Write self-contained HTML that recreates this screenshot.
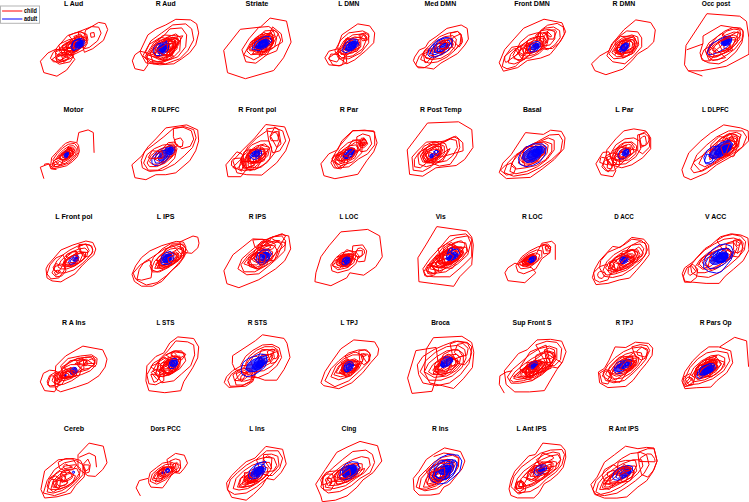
<!DOCTYPE html>
<html><head><meta charset="utf-8"><style>
html,body{margin:0;padding:0;background:#fff;}
svg{display:block;}
.r{fill:none;stroke:#f00;stroke-width:1.0;stroke-linejoin:miter;}
.b{fill:none;stroke:#00f;stroke-width:1.0;}
.bf{fill:#00f;fill-opacity:0.7;stroke:none;}
.t text{font-family:"Liberation Sans",sans-serif;font-weight:bold;font-size:7.9px;text-anchor:middle;fill:#000;}
.lg{font-family:"Liberation Sans",sans-serif;font-weight:bold;font-size:6.3px;fill:#000;}
</style></head><body>
<svg width="749" height="502" viewBox="0 0 749 502">
<rect x="0" y="0" width="749" height="502" fill="#fff"/>
<polygon points="40.4,61.2 48.0,52.9 55.7,49.3 62.9,49.9 70.1,52.3 74.8,59.4 66.5,70.2 56.9,76.2 43.8,72.6" class="r"/>
<polygon points="85.6,30.2 98.7,22.4 105.3,23.6 107.7,29.6 103.5,40.3 92.8,48.7 84.4,52.3 82.0,43.9" class="r"/>
<polygon points="78.4,31.9 91.6,26.6 98.7,27.2 101.1,33.1 97.5,40.9 89.2,47.5 84.4,48.7 79.6,41.5" class="r"/>
<polygon points="90.4,33.1 94.0,32.5 94.6,36.7 91.0,37.3" class="r"/>
<polygon points="58.7,45.7 67.7,35.5 79.6,31.4 85.6,34.3 87.4,43.3 83.2,49.9 73.6,54.6 62.9,54.6" class="r"/>
<polygon points="54.5,51.1 59.9,43.9 68.9,39.7 78.4,37.9 82.0,42.7 77.2,51.1 66.5,55.8 58.1,55.8" class="r"/>
<polygon points="62.6,46.3 70.2,41.0 71.5,40.3 71.8,40.3 77.7,43.5 77.3,43.9 62.8,50.6" class="r"/>
<polygon points="59.4,48.7 68.0,42.5 73.6,43.8 61.8,53.8 59.7,51.5" class="r"/>
<polygon points="66.1,55.6 68.4,44.8 68.5,44.3 72.3,43.7 74.3,43.8 76.9,45.9" class="r"/>
<polygon points="61.7,46.2 66.2,42.7 69.8,41.8 76.0,45.3 73.8,48.0 67.8,52.5" class="r"/>
<polygon points="50.4,58.2 53.3,52.3 60.5,48.1 70.1,47.5 74.8,52.3 71.3,58.2 61.7,61.8 53.3,61.8" class="r"/>
<polygon points="55.5,52.0 58.1,50.8 70.3,48.2 72.5,50.0 73.3,53.6 72.4,54.2 58.7,60.9 56.1,59.1" class="r"/>
<polygon points="56.1,58.2 58.8,53.4 61.5,52.5 67.2,52.6 61.5,61.1" class="r"/>
<polygon points="52.1,59.4 58.1,54.6 66.5,53.5 73.6,55.8 70.1,61.8 59.3,64.2" class="r"/>
<polygon points="56.2,58.1 57.0,57.3 61.0,55.0 69.2,58.0 58.7,62.9 56.8,61.1 56.4,59.9" class="r"/>
<polygon points="61.5,55.5 63.3,54.5 66.0,53.6 72.0,54.9 63.8,62.5" class="r"/>
<polygon points="62.9,49.9 68.9,41.5 76.0,36.7 82.0,35.5 85.0,40.3 80.8,47.5 72.5,52.3" class="r"/>
<polygon points="71.1,45.2 71.4,44.1 72.4,42.8 78.4,39.6 80.3,42.8 77.4,46.1 74.1,47.0 72.4,46.5" class="r"/>
<polygon points="65.8,46.3 68.7,42.1 74.4,41.2 75.5,42.5 70.6,48.4 66.5,48.4" class="r"/>
<polygon points="71.6,42.6 86.3,36.6 86.0,44.4 82.1,47.6 72.3,47.7 72.0,47.1" class="r"/>
<polygon points="73.2,42.5 75.6,37.5 82.0,36.8 78.2,45.0" class="r"/>
<polygon points="66.5,48.7 71.3,41.5 77.2,39.1 83.2,40.3 83.2,46.3 77.2,51.1 70.1,52.3" class="r"/>
<polygon points="71.8,45.7 72.4,44.8 74.3,43.1 77.1,41.9 79.0,46.9 72.2,48.5" class="r"/>
<polygon points="72.2,52.4 75.9,41.6 79.5,44.4 79.1,47.2 78.2,50.3" class="r"/>
<polygon points="72.7,48.5 80.2,38.9 81.5,40.2 80.8,45.5 80.4,46.4 75.2,49.0" class="r"/>
<polygon points="66.1,47.2 67.9,44.4 77.0,39.8 79.9,40.9 80.3,45.2 77.5,50.4 67.9,50.8" class="r"/>
<polygon points="68.9,35.5 74.8,33.1 80.8,31.9 86.8,34.3 88.0,40.3 84.4,43.9 74.8,42.7" class="r"/>
<polygon points="78.8,37.9 80.7,35.9 86.4,38.6 86.1,40.3 85.7,40.4 79.6,40.3 79.1,39.1" class="r"/>
<polygon points="73.8,36.5 80.6,33.9 83.9,39.9 78.5,40.8 75.7,40.0" class="r"/>
<polygon points="71.9,47.5 73.1,41.5 77.2,39.1 82.0,38.5 84.4,40.9 83.8,45.1 80.2,48.1 74.8,49.9 72.5,49.9" class="b"/>
<polygon points="70.8,46.3 73.1,42.0 73.7,41.3 79.0,39.1 82.0,40.5 73.8,51.1 71.6,48.6" class="b"/>
<polygon points="74.8,46.9 76.0,42.7 79.6,40.3 83.2,40.9 82.6,45.7 78.4,48.1" class="b"/>
<polygon points="74.8,46.9 76.0,42.7 79.6,40.3 83.2,40.9 82.6,45.7 78.4,48.1" class="bf"/>
<polygon points="78.2,44.6 78.7,42.5 81.1,41.3 82.0,44.0 79.4,45.9 78.4,45.4" class="b"/>
<polygon points="76.6,45.7 77.8,42.7 80.8,41.5 82.2,43.3 80.8,46.3" class="b"/>
<polygon points="76.6,45.7 77.8,42.7 80.8,41.5 82.2,43.3 80.8,46.3" class="bf"/>
<polygon points="77.6,43.9 81.1,40.9 81.4,41.1 83.0,42.2 78.7,45.3" class="b"/>
<polygon points="132.3,60.8 134.9,54.8 139.9,51.2 146.9,52.8 147.9,64.8 143.9,70.7 134.9,68.7" class="r"/>
<polygon points="139.9,51.8 147.9,34.9 155.8,29.3 165.8,24.9 175.8,19.3 190.7,19.9 196.7,23.9 198.7,32.9 195.7,44.8 189.7,52.8 181.7,58.8 173.8,63.8 159.8,64.8 145.9,62.8" class="r"/>
<polygon points="142.9,55.8 150.9,40.9 161.8,32.9 172.8,24.9 185.7,23.9 191.7,28.9 193.7,39.9 187.7,50.8 179.7,58.8 165.8,63.8 149.9,62.8" class="r"/>
<polygon points="144.9,56.8 153.8,42.8 163.8,35.9 169.8,28.9 181.7,27.9 186.7,34.9 185.7,46.8 177.8,56.8 163.8,61.8 150.9,61.8" class="r"/>
<polygon points="155.0,50.4 158.7,40.5 182.8,35.8 170.4,56.2 155.1,55.5" class="r"/>
<polygon points="145.5,52.1 149.2,44.4 159.1,38.2 161.8,37.6 169.1,39.2 165.9,60.1 147.7,55.0 146.4,54.0" class="r"/>
<polygon points="151.3,51.8 156.8,41.4 161.7,36.3 164.4,35.0 177.8,35.9 166.4,60.1 162.8,60.7" class="r"/>
<polygon points="162.2,45.7 162.9,42.6 165.8,38.5 169.1,37.0 178.4,38.8 177.9,42.2 171.2,51.4 170.1,51.1" class="r"/>
<polygon points="145.9,57.8 153.8,44.8 165.8,37.9 175.8,33.9 180.7,37.9 179.7,50.8 171.8,58.8 157.8,61.8" class="r"/>
<polygon points="150.2,52.6 151.4,51.8 173.8,56.1 162.4,62.5 153.3,63.9" class="r"/>
<polygon points="160.6,49.1 163.1,43.6 173.1,38.9 176.8,38.3 179.3,43.7 177.2,46.6 170.4,53.1" class="r"/>
<polygon points="154.5,48.0 177.4,46.7 176.8,49.2 174.1,51.4 167.7,56.0 155.5,50.6" class="r"/>
<polygon points="164.9,51.6 167.4,41.6 173.2,39.4 178.0,43.0 175.0,47.2" class="r"/>
<polygon points="148.9,54.8 155.8,44.8 165.8,39.9 173.8,38.9 176.8,45.8 171.8,55.8 159.8,59.8" class="r"/>
<polygon points="161.7,53.1 172.1,37.0 180.0,41.0 170.4,54.4 165.9,55.1 161.7,55.5" class="r"/>
<polygon points="165.3,41.0 168.9,39.3 171.7,40.0 173.3,42.5 172.8,48.0 169.7,50.5" class="r"/>
<polygon points="161.5,49.1 165.2,43.8 176.1,42.9 175.1,46.5 170.0,51.7 165.2,52.1 162.2,50.6" class="r"/>
<polygon points="149.9,53.8 157.8,44.8 167.8,39.9 175.8,41.9 173.8,52.8 163.8,57.8" class="r"/>
<polygon points="163.2,48.3 171.8,43.0 173.0,43.4 173.4,48.6 163.9,49.6" class="r"/>
<polygon points="154.2,55.8 158.9,46.4 162.2,45.3 163.6,45.3 158.7,56.2 157.6,57.1" class="r"/>
<polygon points="162.5,51.8 171.4,43.2 172.4,42.6 171.7,50.0 168.5,52.0" class="r"/>
<polygon points="158.9,52.0 159.2,43.1 161.0,42.1 164.1,40.4 172.7,41.7 175.6,43.1 171.3,50.6" class="r"/>
<polygon points="153.8,47.8 157.8,43.8 163.8,42.8 168.8,43.8 168.2,49.8 162.8,54.8 156.8,55.8 153.8,52.8" class="b"/>
<polygon points="163.7,46.4 164.0,43.5 165.9,41.2 166.9,40.9 165.9,47.1" class="b"/>
<polygon points="156.8,49.8 159.8,44.8 164.8,44.4 166.8,47.8 163.8,52.8 158.8,53.8" class="b"/>
<polygon points="156.8,49.8 159.8,44.8 164.8,44.4 166.8,47.8 163.8,52.8 158.8,53.8" class="bf"/>
<polygon points="159.9,47.9 160.1,47.8 163.4,46.1 164.9,48.5 164.1,50.1 161.7,50.7" class="b"/>
<polygon points="158.8,50.8 160.8,45.8 164.8,45.8 165.8,49.8 161.8,53.2" class="b"/>
<polygon points="158.8,50.8 160.8,45.8 164.8,45.8 165.8,49.8 161.8,53.2" class="bf"/>
<polygon points="160.3,51.1 164.2,48.1 164.4,50.0 163.8,51.0 162.3,51.8" class="b"/>
<polygon points="156.5,50.1 166.5,43.9 168.8,44.2 170.6,49.0 166.9,54.1 163.6,55.0" class="r"/>
<polygon points="223.7,50.4 240.3,29.3 260.4,27.1 270.1,18.1 286.5,21.1 291.1,42.1 283.5,57.8 273.7,70.5 245.4,78.7 227.5,72.7" class="r"/>
<polygon points="241.9,49.8 248.8,38.9 258.8,27.3 268.8,26.5 277.7,32.9 280.7,39.9 276.7,50.8 266.8,54.8 255.8,63.2 245.8,61.8" class="r"/>
<polygon points="252.4,42.3 255.3,39.0 264.2,36.7 268.7,37.8 260.5,52.4 252.7,47.1" class="r"/>
<polygon points="259.1,55.6 272.6,26.9 281.2,33.8 282.6,41.9 281.7,42.5" class="r"/>
<polygon points="260.9,35.2 264.6,30.9 272.9,30.4 274.3,33.3 275.2,36.7 274.5,37.4 261.6,41.5" class="r"/>
<polygon points="252.4,53.6 273.3,30.4 275.0,30.4 278.3,33.8 267.0,54.9" class="r"/>
<polygon points="243.9,54.8 250.8,41.9 260.8,34.9 270.7,32.9 276.7,37.9 274.7,46.8 264.8,53.8 253.8,59.8" class="r"/>
<polygon points="256.5,49.0 256.5,43.5 262.0,39.1 266.7,39.8 268.2,42.3 268.4,42.8" class="r"/>
<polygon points="254.5,38.8 259.5,35.1 263.9,32.4 273.9,37.9 271.7,42.0 255.1,50.1 254.6,48.6" class="r"/>
<polygon points="248.9,48.3 252.1,43.9 258.4,38.0 269.0,34.7 265.2,51.9 249.8,50.7" class="r"/>
<polygon points="254.0,42.5 265.4,33.6 270.6,33.4 272.3,34.5 272.6,34.8 273.4,41.1 273.5,43.2 257.6,50.5 254.1,44.4" class="r"/>
<polygon points="246.8,50.8 252.8,40.9 261.8,35.9 270.7,35.9 273.7,40.9 269.7,48.8 259.8,53.8 250.8,54.8" class="r"/>
<polygon points="258.3,39.2 267.5,36.8 273.1,41.5 271.8,46.2 265.9,51.5 262.3,52.4" class="r"/>
<polygon points="255.2,46.2 257.2,43.0 266.3,35.0 268.9,34.9 272.7,35.0 273.4,43.2 257.2,49.0" class="r"/>
<polygon points="252.2,50.3 253.5,47.4 259.1,41.3 267.2,40.1 270.6,41.8 268.2,46.1 265.5,49.6" class="r"/>
<polygon points="262.8,47.2 262.9,41.2 264.4,40.0 266.4,47.8 265.5,48.4 263.3,47.9" class="r"/>
<polygon points="249.8,48.8 255.8,39.9 264.8,36.9 272.7,38.9 272.7,44.8 264.8,50.8 256.8,52.8" class="r"/>
<polygon points="255.1,43.4 258.3,40.9 262.7,38.4 268.3,39.6 267.9,46.6 258.5,49.5 256.0,48.2" class="r"/>
<polygon points="261.6,39.6 268.6,37.9 272.3,39.8 271.0,44.5 265.0,47.3 262.7,48.4" class="r"/>
<polygon points="257.3,52.2 261.0,40.1 268.1,39.4 271.9,43.9 268.3,49.4 265.6,51.1" class="r"/>
<polygon points="257.3,48.1 258.2,45.1 261.0,43.6 266.4,44.9 266.0,45.8 265.1,47.3 262.0,49.1 260.9,49.2" class="r"/>
<polygon points="251.8,48.8 255.8,41.9 263.8,36.9 269.7,36.5 271.7,40.9 266.8,46.8 258.8,50.8" class="b"/>
<polygon points="258.9,42.9 263.6,39.7 266.4,40.3 266.1,44.6 264.3,45.8 260.4,47.1 259.2,47.2" class="b"/>
<polygon points="254.8,47.8 258.8,41.9 265.8,38.9 269.7,40.9 266.8,45.8 259.8,48.8" class="b"/>
<polygon points="254.8,47.8 258.8,41.9 265.8,38.9 269.7,40.9 266.8,45.8 259.8,48.8" class="bf"/>
<polygon points="259.4,45.2 264.1,39.7 267.7,44.6 267.1,45.4 266.0,45.9 259.8,45.9 259.6,45.6" class="b"/>
<polygon points="256.8,46.8 260.8,41.9 266.8,40.5 267.8,43.8 262.8,47.2" class="b"/>
<polygon points="256.8,46.8 260.8,41.9 266.8,40.5 267.8,43.8 262.8,47.2" class="bf"/>
<polygon points="258.2,47.2 258.9,43.5 266.1,42.0 266.7,42.6 262.6,47.1 260.9,47.2" class="b"/>
<polygon points="324.9,57.8 328.9,51.2 337.8,48.8 345.8,52.8 346.8,62.8 338.8,65.8 328.9,64.8" class="r"/>
<polygon points="328.7,57.9 337.9,51.6 344.8,55.2 342.6,64.6 341.3,65.4 339.8,65.8 332.7,64.8" class="r"/>
<polygon points="328.8,58.5 330.9,54.0 338.0,54.5 339.9,57.9 336.8,62.0 329.4,59.9" class="r"/>
<polygon points="341.8,34.9 357.8,23.9 369.7,25.9 374.7,32.9 373.7,42.8 365.7,50.8 354.8,59.8 346.8,63.8 338.8,57.8 337.8,46.8" class="r"/>
<polygon points="334.9,50.8 340.8,39.9 348.8,32.9 362.7,30.9 368.7,33.9 368.7,42.8 360.8,52.8 348.8,58.8 338.8,58.8" class="r"/>
<polygon points="336.8,52.8 343.8,40.9 352.8,34.9 362.7,33.9 366.7,38.9 362.7,48.8 352.8,55.8 341.8,57.8" class="r"/>
<polygon points="348.2,43.6 352.4,38.4 358.8,37.2 360.9,37.6 350.5,49.0 348.5,47.0" class="r"/>
<polygon points="340.5,50.2 348.3,40.4 350.2,39.3 359.6,45.6 360.4,46.5 357.0,51.2 341.0,54.5" class="r"/>
<polygon points="342.6,47.2 345.8,38.7 358.7,39.6 359.1,42.1 358.5,44.7 355.4,48.8 354.3,49.6 346.9,51.4" class="r"/>
<polygon points="343.4,45.4 344.1,43.8 345.7,42.3 357.1,43.8 357.0,44.9 344.3,49.4 343.6,47.4" class="r"/>
<polygon points="358.8,34.9 364.7,32.9 369.1,35.9 367.7,39.9 362.7,40.9" class="r"/>
<polygon points="360.6,35.8 362.5,33.8 364.4,33.7 366.6,37.3 366.0,38.0 364.6,38.7 363.2,38.5 361.4,37.8" class="r"/>
<polygon points="361.6,37.6 363.1,35.0 363.3,35.0 365.1,35.1 367.2,38.2 364.8,39.5 363.6,39.1 362.6,38.6" class="r"/>
<polygon points="338.8,50.8 346.8,39.9 354.8,36.9 360.8,37.9 360.8,46.8 352.8,52.8 343.8,54.8" class="r"/>
<polygon points="344.1,49.7 344.7,46.7 347.1,42.7 351.6,40.7 354.1,41.0 355.4,47.8 350.9,50.9" class="r"/>
<polygon points="344.9,43.6 347.5,37.5 356.1,48.5 355.3,50.0 345.7,49.8" class="r"/>
<polygon points="343.2,54.5 343.4,46.5 349.1,43.8 354.4,43.7 354.4,49.4 345.5,56.2" class="r"/>
<polygon points="348.9,42.3 359.4,42.1 360.0,43.9 358.1,48.0 356.3,49.2 352.0,50.8" class="r"/>
<polygon points="341.8,50.8 345.8,42.8 351.8,38.9 356.8,39.3 358.8,44.8 352.8,49.8 345.8,52.8" class="b"/>
<polygon points="345.9,45.6 355.8,40.1 356.6,43.6 352.8,48.6 351.6,49.8 350.9,49.9 346.8,49.7" class="b"/>
<polygon points="344.8,49.8 348.8,42.8 353.8,40.9 357.8,42.8 354.8,47.8 348.8,50.4" class="b"/>
<polygon points="344.8,49.8 348.8,42.8 353.8,40.9 357.8,42.8 354.8,47.8 348.8,50.4" class="bf"/>
<polygon points="351.6,44.6 353.2,42.4 355.5,41.5 356.5,42.7 356.4,44.6 355.1,45.9 352.1,46.4" class="b"/>
<polygon points="347.8,47.8 350.8,43.8 354.8,42.8 355.8,45.8 351.8,48.4" class="b"/>
<polygon points="347.8,47.8 350.8,43.8 354.8,42.8 355.8,45.8 351.8,48.4" class="bf"/>
<polygon points="351.1,45.0 351.6,43.8 356.4,43.1 355.3,46.5 354.4,47.1" class="b"/>
<polygon points="413.4,60.7 414.6,57.1 419.4,49.9 425.3,47.5 428.9,41.5 436.1,36.7 446.9,28.4 461.2,25.0 467.2,28.4 468.4,39.1 464.8,45.1 457.6,53.5 449.3,58.3 440.9,63.1 433.7,69.0 426.5,67.8 417.0,66.7" class="r"/>
<polygon points="415.8,64.3 419.4,55.9 425.3,51.1 432.5,49.9 433.7,57.1 430.1,64.3 424.1,67.8 418.2,67.8" class="r"/>
<polygon points="423.4,54.0 431.6,50.1 432.7,56.1 426.7,62.6 426.1,62.6 424.9,62.5" class="r"/>
<polygon points="420.6,59.5 424.1,51.1 431.3,43.9 439.7,36.7 448.1,33.2 457.6,31.4 461.2,34.4 461.2,42.7 455.2,49.9 446.9,57.1 437.3,61.9 428.9,63.1" class="r"/>
<polygon points="425.3,57.1 428.9,48.7 436.1,41.5 444.5,36.7 452.8,35.6 456.4,39.1 455.2,46.3 449.3,53.5 440.9,58.3 432.5,59.5" class="r"/>
<polygon points="423.4,53.5 425.9,49.0 444.2,48.8 444.1,52.0 442.5,53.4 432.3,59.4 426.2,58.4" class="r"/>
<polygon points="434.1,51.7 434.5,45.7 444.1,40.8 448.1,45.5 442.3,53.6" class="r"/>
<polygon points="428.9,54.7 432.5,47.5 438.5,42.1 445.7,39.1 451.7,39.1 452.8,43.9 449.3,49.9 442.1,54.7 434.9,56.5" class="r"/>
<polygon points="436.8,48.9 437.3,47.1 447.6,42.1 449.7,42.8 449.7,44.2 443.7,51.5 443.1,52.2 438.7,51.3 438.2,51.1" class="r"/>
<polygon points="450.5,33.2 457.6,31.4 461.2,35.6 460.0,43.9 455.2,49.9 451.7,46.3" class="r"/>
<polygon points="452.5,39.8 453.0,37.3 460.6,33.9 462.3,38.5 462.4,42.2 459.2,47.1" class="r"/>
<polygon points="439.4,47.6 443.4,42.6 445.8,42.9 446.5,43.8 446.6,44.2 446.2,46.9 442.3,49.9 441.5,49.9" class="r"/>
<polygon points="427.7,54.7 428.9,49.9 432.5,45.1 437.3,40.3 443.3,37.9 449.3,37.9 452.2,40.3 451.7,46.3 446.9,51.1 440.9,54.7 434.9,57.1 430.1,57.1" class="b"/>
<polygon points="433.2,45.3 433.7,44.3 446.9,42.8 444.8,48.7 441.1,51.3 434.8,52.0" class="b"/>
<polygon points="430.1,53.5 432.5,48.7 437.3,43.9 443.3,40.9 449.3,40.3 450.5,43.9 446.9,48.7 440.9,52.3 434.9,54.7" class="b"/>
<polygon points="435.3,49.6 437.1,41.6 444.5,38.1 446.2,37.6 452.1,38.9 452.3,42.3 438.7,51.6" class="b"/>
<polygon points="433.7,52.3 436.1,48.1 440.9,45.1 445.7,43.3 449.3,44.5 448.1,48.1 443.3,51.1 437.3,52.9" class="b"/>
<polygon points="437.4,51.5 437.5,48.7 438.2,48.3 440.8,51.7 440.0,52.2 438.1,52.5" class="b"/>
<polygon points="439.7,48.7 440.9,45.1 444.5,42.7 448.1,43.9 447.5,47.5 443.3,49.9" class="b"/>
<polygon points="439.7,48.7 440.9,45.1 444.5,42.7 448.1,43.9 447.5,47.5 443.3,49.9" class="bf"/>
<polygon points="439.2,48.0 440.2,44.8 441.5,44.3 444.7,43.8 446.0,44.0 446.6,44.4 446.3,44.9" class="b"/>
<polygon points="439.1,46.4 449.8,38.1 453.4,44.5 451.8,47.5 441.9,49.3 440.1,48.7" class="r"/>
<polygon points="434.9,49.9 437.3,43.9 442.1,40.9 446.9,40.3 449.3,43.9 446.9,48.7 442.1,52.3 437.3,52.9" class="r"/>
<polygon points="439.2,46.7 441.5,42.2 447.2,42.5 445.0,48.2 440.4,48.6" class="r"/>
<polygon points="499.2,62.8 504.6,49.7 514.1,38.9 523.7,28.2 544.0,19.2 562.0,22.8 565.6,31.7 562.0,38.9 556.0,47.3 550.0,54.5 540.5,58.1 527.3,60.5 517.7,67.6 503.4,71.2" class="r"/>
<polygon points="502.2,66.4 504.6,56.9 511.7,47.3 518.9,46.1 523.7,50.9 522.5,59.3 515.3,66.4 507.0,68.8" class="r"/>
<polygon points="504.7,60.2 504.8,56.2 513.5,49.1 517.1,48.4 518.6,49.2 519.2,53.1 505.8,62.5" class="r"/>
<polygon points="508.2,62.8 510.6,54.5 517.7,47.3 526.1,42.5 530.9,44.9 529.7,54.5 522.5,60.5 514.1,64.0" class="r"/>
<polygon points="513.9,58.6 514.3,56.9 527.7,42.7 528.0,43.0 531.1,47.8 520.2,60.0" class="r"/>
<polygon points="540.5,30.6 547.6,25.2 557.2,23.4 563.2,27.0 564.4,34.1 559.6,42.5 552.4,48.5 545.2,48.5 540.5,40.1" class="r"/>
<polygon points="543.2,37.4 547.9,32.1 547.0,42.9 544.2,40.8" class="r"/>
<polygon points="538.1,32.9 545.2,28.2 553.6,27.0 559.6,30.6 560.2,37.7 554.8,44.9 547.6,49.7 541.7,48.5" class="r"/>
<polygon points="546.7,37.2 547.0,32.1 548.5,30.1 555.2,29.9 556.0,30.7 556.5,31.4 553.6,39.1 548.9,39.0 547.4,37.9" class="r"/>
<polygon points="516.5,50.9 520.1,42.5 528.5,35.3 536.9,32.9 545.2,32.9 548.8,37.7 546.4,46.1 539.3,53.3 529.7,58.1 521.3,58.1" class="r"/>
<polygon points="534.8,46.4 538.1,34.0 541.6,33.3 546.5,40.7 541.6,46.4 537.4,47.4" class="r"/>
<polygon points="525.5,52.5 527.4,45.2 530.3,43.5 536.1,47.1 535.3,49.8 532.0,52.2" class="r"/>
<polygon points="518.9,52.1 522.5,44.9 529.7,38.9 536.9,36.5 544.0,36.5 546.4,41.3 542.8,48.5 534.5,54.5 526.1,56.3" class="r"/>
<polygon points="526.6,49.1 536.2,36.7 542.3,42.0 540.3,46.4 536.2,48.2 532.8,49.4 530.1,49.4" class="r"/>
<polygon points="524.7,47.9 527.8,40.8 538.8,36.6 543.9,39.7 541.8,49.1 533.1,52.5 529.6,53.6" class="r"/>
<polygon points="522.5,50.9 526.1,44.9 532.1,41.3 538.1,40.1 542.8,41.3 542.8,46.1 538.1,50.9 530.9,53.3 524.9,53.9" class="r"/>
<polygon points="526.0,44.8 528.4,43.2 532.0,42.5 538.4,45.9 533.2,51.4 528.1,52.6" class="r"/>
<polygon points="525.6,49.8 527.7,45.6 533.2,43.2 536.9,42.7 538.8,44.2 526.4,50.2" class="r"/>
<polygon points="512.9,55.7 516.5,48.5 523.7,44.9 529.7,46.1 530.9,53.3 524.9,59.3 517.7,60.5" class="r"/>
<polygon points="519.0,54.0 519.1,52.9 521.1,48.7 523.5,48.0 525.9,48.7 526.6,49.0 523.1,56.2" class="r"/>
<polygon points="535.7,35.3 541.7,30.6 548.8,29.4 554.8,31.7 554.8,38.9 550.0,44.9 542.8,46.1 538.1,41.3" class="r"/>
<polygon points="543.1,33.0 547.7,31.7 551.0,35.0 551.4,35.6 551.0,37.0" class="r"/>
<polygon points="528.5,49.7 529.7,45.5 533.3,42.5 536.9,41.3 539.9,42.5 539.9,47.3 536.9,50.3 532.7,52.1 529.7,51.5" class="b"/>
<polygon points="530.9,48.5 532.7,44.9 536.3,43.1 539.0,44.3 538.3,47.9 535.1,49.9 532.1,49.9" class="b"/>
<polygon points="530.9,48.5 532.7,44.9 536.3,43.1 539.0,44.3 538.3,47.9 535.1,49.9 532.1,49.9" class="bf"/>
<polygon points="533.3,47.3 535.1,44.3 538.1,43.7 538.3,46.3 535.7,48.5" class="b"/>
<polygon points="533.3,47.3 535.1,44.3 538.1,43.7 538.3,46.3 535.7,48.5" class="bf"/>
<polygon points="591.5,63.8 599.9,55.8 608.9,50.8 613.8,41.9 623.8,29.9 635.8,19.9 650.7,22.5 655.3,29.9 653.7,41.9 647.7,47.8 637.7,53.8 631.8,60.8 622.8,69.1 605.9,74.7 594.9,70.7" class="r"/>
<polygon points="606.9,55.8 611.8,43.8 618.8,36.9 626.8,30.9 637.7,31.9 641.7,37.9 641.7,46.8 633.8,55.8 624.8,63.8 612.8,61.8" class="r"/>
<polygon points="615.2,45.8 615.2,42.0 620.6,36.5 633.1,36.0 635.4,38.7 632.4,53.7 622.7,57.9" class="r"/>
<polygon points="615.9,44.5 618.7,42.3 621.6,40.8 627.3,42.5 626.4,47.8" class="r"/>
<polygon points="608.9,53.8 615.8,42.8 622.8,37.9 631.8,34.9 637.7,36.9 638.7,44.8 633.8,52.8 623.8,57.8 613.8,58.8" class="r"/>
<polygon points="620.2,54.1 622.2,44.1 631.9,39.7 632.8,39.9 635.5,43.2 633.7,46.8" class="r"/>
<polygon points="615.1,54.5 619.6,42.5 623.5,40.3 625.2,40.1 627.7,40.6" class="r"/>
<polygon points="611.8,52.8 617.8,42.8 624.8,38.5 632.8,37.3 636.7,41.9 634.8,49.8 626.8,55.8 616.8,56.8" class="r"/>
<polygon points="620.9,47.6 622.9,40.7 633.5,36.5 637.3,42.8 637.2,46.1 630.2,52.5 623.4,52.8" class="r"/>
<polygon points="616.6,50.7 617.1,46.7 619.8,44.2 625.1,42.2 623.3,55.4 620.0,54.6" class="r"/>
<polygon points="613.8,51.8 619.8,42.8 626.8,38.9 633.8,39.9 634.8,46.8 628.8,52.8 618.8,54.8" class="r"/>
<polygon points="617.5,48.4 619.9,46.7 623.8,46.4 624.7,50.2 617.6,52.3" class="r"/>
<polygon points="622.9,45.9 628.3,40.5 631.1,40.9 635.6,46.7 635.4,47.5 630.5,51.8 629.2,51.6 623.0,47.6" class="r"/>
<polygon points="615.8,49.7 617.1,47.3 627.5,48.1 623.3,54.2 622.3,55.1 621.9,55.1 616.4,51.6" class="r"/>
<polygon points="622.1,48.1 623.0,44.5 625.0,43.1 627.5,41.9 629.2,41.6 629.5,42.5 629.8,46.6 623.4,49.4" class="r"/>
<polygon points="618.8,50.8 621.4,45.8 625.8,42.8 628.8,43.8 627.8,48.8 622.8,52.4" class="b"/>
<polygon points="621.1,48.7 621.5,46.9 622.5,45.9 624.2,45.4 626.6,48.9 624.7,50.5" class="b"/>
<polygon points="619.8,49.8 622.8,44.8 626.8,43.8 627.8,47.2 623.8,50.8" class="b"/>
<polygon points="619.8,49.8 622.8,44.8 626.8,43.8 627.8,47.2 623.8,50.8" class="bf"/>
<polygon points="620.8,48.0 621.5,45.7 622.2,45.1 625.8,43.5 627.9,45.2 623.6,50.3 622.9,50.2 620.9,48.5" class="b"/>
<polygon points="614.8,49.8 620.8,41.9 627.8,39.9 632.8,42.8 631.8,48.8 624.8,52.8 617.8,53.8" class="r"/>
<polygon points="706.9,13.7 739.8,16.2 746.5,21.4 748.9,37.9 748.9,54.3 726.3,66.3 700.9,70.8 688.2,70.8 684.5,64.8 686.0,45.4" class="r"/>
<polygon points="703.0,36.0 720.9,25.5 736.9,28.0 742.8,30.0 743.3,36.0 741.8,42.9 735.9,51.9 726.9,59.9 718.9,63.9 708.9,62.9 702.0,59.9 700.0,52.9 703.0,42.9" class="r"/>
<polygon points="706.3,54.0 710.0,44.1 725.5,57.6 712.7,60.6" class="r"/>
<polygon points="705.0,49.9 708.9,42.9 716.9,36.9 724.9,31.0 732.9,27.5 740.8,28.0 743.3,32.0 741.8,39.9 734.9,48.9 726.9,54.9 717.9,59.9 708.9,59.9" class="r"/>
<polygon points="708.7,51.4 710.4,44.8 717.9,36.0 722.7,32.8 732.7,49.8 714.1,57.3 710.0,56.1" class="r"/>
<polygon points="706.9,52.9 710.9,45.9 717.9,39.9 725.9,35.0 733.9,32.0 739.8,33.0 739.8,38.9 733.9,45.9 725.9,51.9 716.9,56.9 709.9,56.9" class="r"/>
<polygon points="723.9,41.9 726.8,40.0 730.4,47.7 724.6,48.9 724.0,48.4" class="r"/>
<polygon points="714.1,51.7 727.1,41.0 730.7,44.5 725.9,50.6 716.5,53.0" class="r"/>
<polygon points="701.0,56.9 704.0,49.9 708.9,46.9 713.9,48.9 713.9,55.9 709.9,60.9 704.0,60.9" class="r"/>
<polygon points="721.9,35.0 726.9,31.0 733.9,29.0 739.8,30.0 740.8,35.0 736.9,39.9 728.9,39.9" class="r"/>
<polyline points="688.2,70.8 702.4,76.0" class="r"/>
<polyline points="686.7,49.8 703.2,43.9" class="r"/>
<polygon points="707.4,52.9 708.9,47.9 712.9,42.9 718.9,39.9 724.9,36.9 729.9,36.0 731.9,37.9 730.9,42.9 725.9,47.9 718.9,51.9 712.9,54.4 708.9,54.9" class="b"/>
<polygon points="720.9,43.9 721.9,39.9 724.9,36.9 728.9,36.0 731.4,37.9 730.9,41.9 727.9,44.9 723.9,45.9" class="b"/>
<polygon points="720.9,43.9 721.9,39.9 724.9,36.9 728.9,36.0 731.4,37.9 730.9,41.9 727.9,44.9 723.9,45.9" class="bf"/>
<polygon points="721.9,43.4 723.4,39.9 725.9,37.9 728.9,37.9 729.9,40.9 727.9,43.9 724.4,44.9" class="b"/>
<polygon points="721.9,43.4 723.4,39.9 725.9,37.9 728.9,37.9 729.9,40.9 727.9,43.9 724.4,44.9" class="bf"/>
<polygon points="722.9,42.4 724.4,39.4 726.9,38.4 728.9,39.9 727.9,42.9 724.9,43.9" class="b"/>
<polygon points="722.9,42.4 724.4,39.4 726.9,38.4 728.9,39.9 727.9,42.9 724.9,43.9" class="bf"/>
<polygon points="717.9,42.0 738.2,31.5 738.4,32.8 731.2,49.0 722.4,50.6 722.1,50.2" class="r"/>
<polygon points="708.9,51.9 712.9,45.9 719.9,40.9 726.9,36.9 733.9,35.0 737.9,36.9 736.9,42.9 730.9,48.9 722.9,53.9 714.9,55.9" class="r"/>
<polygon points="711.9,49.9 715.9,44.9 721.9,40.9 728.9,37.9 734.9,37.4 735.9,40.9 731.9,45.9 724.9,50.9 717.9,52.9" class="r"/>
<polygon points="51.6,157.8 56.5,152.4 61.9,146.6 65.5,143.4 70.0,141.6 76.3,142.5 78.5,145.2 79.4,151.5 77.2,156.9 72.7,161.4 66.4,165.8 59.2,167.6 53.9,168.5 50.7,165.8" class="r"/>
<polygon points="53.0,159.6 57.4,153.3 62.8,147.9 68.2,144.3 74.5,143.4 77.6,147.0 78.1,152.4 74.5,157.8 68.2,163.2 61.0,165.8 54.8,166.7" class="r"/>
<polygon points="54.8,160.5 59.2,154.2 63.7,149.7 69.1,146.1 73.6,145.7 76.3,148.8 75.8,154.2 71.8,158.7 65.5,163.2 58.3,164.9" class="r"/>
<polygon points="67.1,147.8 69.9,147.2 70.6,147.2 71.4,148.3 72.8,151.4 72.3,151.9" class="r"/>
<polygon points="59.3,158.2 59.6,157.0 60.3,155.7 64.6,151.9 71.1,153.0 66.8,159.9 59.9,158.9" class="r"/>
<polygon points="56.5,159.6 60.6,154.2 65.1,150.6 70.0,147.9 73.6,147.9 74.9,151.5 72.7,156.0 68.2,159.6 61.9,162.7" class="r"/>
<polygon points="60.1,159.6 60.5,156.6 68.2,147.7 73.9,149.5 74.2,150.1 71.5,155.6 62.8,160.0" class="r"/>
<polygon points="63.5,154.0 68.2,151.2 68.5,151.2 68.9,151.4 70.2,154.9 68.4,157.0 65.5,158.4" class="r"/>
<polygon points="62.6,156.9 63.0,156.5 68.1,152.1 70.8,154.6 69.2,156.4 65.9,158.1 65.3,158.2 63.0,157.2" class="r"/>
<polygon points="63.4,153.4 70.9,147.8 71.2,147.8 73.4,153.4 73.1,154.6 72.2,155.7 69.2,157.5" class="r"/>
<polygon points="52.1,164.1 54.8,159.6 59.2,157.8 62.8,159.6 61.9,164.1 57.4,166.7 53.0,166.7" class="r"/>
<polygon points="52.5,164.4 52.8,164.1 56.0,161.5 58.5,162.4 58.0,163.8 53.0,165.2" class="r"/>
<polygon points="61.9,156.9 63.7,152.4 67.3,149.7 70.9,149.3 71.8,152.4 70.0,156.0 65.5,158.7" class="r"/>
<polygon points="65.9,154.0 66.0,152.9 68.5,151.3 69.8,151.0 69.8,154.0 67.8,155.1 66.0,154.9" class="r"/>
<polygon points="63.5,154.9 65.0,151.9 70.2,152.4 70.1,153.9 69.7,155.5 68.8,156.7 66.5,157.5" class="r"/>
<polyline points="44.0,164.5 46.7,163.6 50.7,164.5" class="r"/>
<polyline points="50.7,165.8 51.2,168.5 56.5,169.4" class="r"/>
<polyline points="43.9,178.7 40.3,167.2 48.9,163.8 50.9,168.8 55.9,169.2" class="r"/>
<polyline points="76.8,142.9 78.8,132.5 88.1,129.9 93.3,132.5 94.1,152.8" class="r"/>
<polygon points="64.2,153.3 66.0,151.5 68.2,152.0 68.6,154.6 66.8,157.8 65.1,157.8 64.2,156.0" class="b"/>
<polygon points="65.3,155.7 65.7,153.2 66.4,152.9 68.0,153.5 68.1,155.1 66.6,156.9 66.0,156.8" class="b"/>
<polygon points="65.1,155.1 66.0,152.8 67.7,152.8 67.7,156.0 66.0,156.9" class="b"/>
<polygon points="65.1,155.1 66.0,152.8 67.7,152.8 67.7,156.0 66.0,156.9" class="bf"/>
<polygon points="65.5,154.8 65.5,154.2 65.6,154.0 65.9,153.7 66.1,153.6 66.8,153.6 67.0,154.8 67.0,155.1" class="b"/>
<polygon points="58.3,158.7 61.9,154.2 66.0,152.0 70.0,150.2 72.7,151.1 72.7,154.6 69.1,157.8 63.7,160.5" class="r"/>
<polygon points="131.9,164.8 141.9,155.8 147.9,146.9 155.8,138.9 165.8,127.9 186.7,124.9 197.7,129.9 198.7,140.9 195.7,150.8 189.7,160.8 175.8,172.8 165.8,174.7 155.8,174.7 145.9,179.7 134.9,177.7" class="r"/>
<polygon points="141.2,160.6 144.8,151.1 153.1,145.1 163.9,136.7 173.4,128.4 184.2,126.6 193.7,129.6 196.1,137.9 192.5,147.5 184.2,155.8 174.6,164.2 162.7,170.2 149.5,171.4 142.4,167.8" class="r"/>
<polygon points="173.4,128.4 183.0,127.2 191.3,130.8 193.7,139.1 190.2,146.3 181.8,148.7 175.8,143.9 173.4,136.7" class="r"/>
<polygon points="174.6,139.7 180.6,137.9 183.0,141.5 182.4,146.3 178.2,146.9 175.2,143.9" class="r"/>
<polygon points="143.6,163.0 147.1,154.6 154.3,148.7 162.7,145.1 173.4,143.9 177.0,148.7 174.6,158.2 167.5,165.4 157.9,170.2 148.3,170.2" class="r"/>
<polygon points="153.6,158.9 168.2,142.7 173.9,142.1 178.0,145.3 154.3,159.5" class="r"/>
<polygon points="158.9,151.3 165.1,149.8 166.6,151.3 164.4,156.2 162.0,158.6 161.7,158.3" class="r"/>
<polygon points="161.9,162.4 170.4,146.4 171.3,154.0 171.4,155.4 164.4,161.4" class="r"/>
<polygon points="149.5,161.8 153.1,155.8 159.1,152.3 166.3,149.9 172.2,149.9 172.2,155.8 166.3,160.6 157.9,164.2 151.9,164.2" class="r"/>
<polygon points="154.8,159.1 155.7,156.1 157.9,152.6 166.7,149.9 171.5,152.4 163.2,163.7" class="r"/>
<polygon points="159.7,157.6 163.4,152.1 169.7,150.8 170.3,151.3 171.4,153.4 169.3,156.3" class="r"/>
<polygon points="165.1,148.7 168.6,145.7 173.4,145.1 175.8,148.7 174.6,154.6 169.8,157.0 166.3,154.6" class="r"/>
<polygon points="151.9,159.4 154.3,154.6 159.1,149.9 165.1,147.5 169.8,148.7 169.8,155.8 165.1,161.8 159.1,165.4 154.3,165.4 151.9,163.0" class="b"/>
<polygon points="154.3,159.4 156.7,154.6 161.5,151.1 167.5,149.9 168.6,154.6 165.1,159.4 159.1,163.0 155.5,163.0" class="b"/>
<polygon points="157.9,158.2 160.3,153.5 163.9,151.7 167.5,152.9 166.9,157.0 163.3,160.0 159.1,160.6" class="b"/>
<polygon points="157.9,158.2 160.3,153.5 163.9,151.7 167.5,152.9 166.9,157.0 163.3,160.0 159.1,160.6" class="bf"/>
<polygon points="165.1,149.9 167.5,146.3 171.0,145.7 174.6,147.5 174.6,152.3 171.0,154.6 167.5,154.1" class="b"/>
<polygon points="165.1,149.9 167.5,146.3 171.0,145.7 174.6,147.5 174.6,152.3 171.0,154.6 167.5,154.1" class="bf"/>
<polygon points="167.5,150.5 169.2,147.7 172.2,147.2 173.4,149.9 171.6,152.5 168.9,152.5" class="b"/>
<polygon points="167.5,150.5 169.2,147.7 172.2,147.2 173.4,149.9 171.6,152.5 168.9,152.5" class="bf"/>
<polygon points="148.4,157.3 152.2,150.7 161.9,151.9 163.2,155.7 162.2,158.4 148.9,158.2" class="r"/>
<polygon points="147.1,163.0 150.7,155.8 156.7,151.1 163.9,147.5 172.2,145.7 175.2,149.9 172.2,157.0 165.1,163.0 156.7,166.6 149.5,166.6" class="r"/>
<polygon points="225.9,164.8 236.9,151.8 241.9,153.8 246.8,168.8 240.9,176.7 227.9,176.7" class="r"/>
<polygon points="232.8,167.3 240.8,159.4 241.1,159.3 241.8,161.5 241.5,163.3 240.3,165.5 236.2,169.2" class="r"/>
<polygon points="231.4,165.5 231.7,160.7 233.9,158.5 241.7,158.0 244.0,160.8 244.2,161.2 241.6,171.2" class="r"/>
<polygon points="232.9,160.8 241.9,150.8 254.8,137.9 265.8,124.5 284.7,126.9 289.7,139.9 285.7,150.8 276.7,162.8 261.8,175.1 246.8,174.7 236.9,172.8" class="r"/>
<polygon points="240.9,158.8 247.8,146.9 256.8,137.9 266.8,130.9 276.7,132.9 279.7,140.9 274.7,152.8 266.8,162.8 254.8,169.8 243.9,168.8" class="r"/>
<polygon points="241.9,164.8 243.9,152.8 251.8,144.9 260.8,140.9 268.8,140.9 271.7,147.9 269.7,158.8 261.8,166.8 249.8,170.8" class="r"/>
<polygon points="255.2,160.5 255.4,148.6 260.6,145.0 268.9,147.1 269.1,148.4 268.0,150.0 257.0,160.7" class="r"/>
<polygon points="258.3,160.6 260.5,146.5 264.6,149.1 265.8,155.6 263.5,157.6 258.6,161.3" class="r"/>
<polygon points="248.1,166.2 248.8,154.2 250.6,151.1 263.3,151.2 265.5,153.9 257.2,167.9 252.6,167.4" class="r"/>
<polygon points="246.8,161.4 249.6,152.1 254.8,149.0 260.1,157.3 259.1,160.2 258.4,161.1 257.5,161.8" class="r"/>
<polygon points="244.8,160.8 249.8,150.8 256.8,145.9 264.8,143.9 269.7,147.9 267.8,155.8 260.8,161.8 250.8,163.8" class="r"/>
<polygon points="249.6,155.8 251.1,152.3 254.1,149.3 268.2,148.9 264.2,160.6 257.2,163.3 249.9,161.1" class="r"/>
<polygon points="246.5,155.3 251.5,149.9 258.7,147.7 263.8,150.0 264.4,156.4 257.2,162.0 250.7,162.6" class="r"/>
<polygon points="253.6,154.2 254.5,152.8 260.9,150.8 262.2,154.5 261.4,156.7 259.9,157.2" class="r"/>
<polygon points="256.0,153.2 256.3,152.8 259.9,149.8 262.7,148.8 265.0,151.3 260.6,158.1 259.2,158.3 258.5,158.4" class="r"/>
<polygon points="266.8,128.9 274.7,127.9 282.7,130.9 285.7,140.9 279.7,150.8 272.7,152.8 268.8,140.9" class="r"/>
<polygon points="270.6,136.4 274.3,131.8 275.8,131.5 278.8,131.9 279.0,132.2 281.0,143.9 276.8,147.5" class="r"/>
<polygon points="270.0,136.4 274.7,127.1 278.1,129.2 279.1,130.8 278.0,140.8 271.4,140.7 270.9,139.8" class="r"/>
<polygon points="238.9,168.8 241.9,156.8 248.8,150.8 256.8,148.8 261.8,152.8 259.8,162.8 252.8,168.8 244.8,170.8" class="r"/>
<polygon points="240.7,159.5 244.2,152.1 249.7,149.2 258.7,151.1 259.5,158.0 258.5,161.4 241.4,161.7" class="r"/>
<polygon points="246.1,161.6 250.5,157.7 251.3,168.0 248.7,167.9 246.3,167.4" class="r"/>
<polygon points="243.0,164.9 243.1,161.9 247.6,153.4 252.4,152.7 254.1,165.7 245.8,168.6" class="r"/>
<polygon points="244.2,166.9 247.3,154.3 250.0,153.1 252.0,152.4 257.3,158.2 254.5,164.9 246.8,167.7" class="r"/>
<polygon points="250.8,156.8 252.8,152.8 256.8,149.8 261.2,150.4 261.8,154.4 257.8,158.4 253.2,159.8" class="b"/>
<polygon points="250.0,155.5 251.8,153.2 254.0,151.6 255.8,151.7 250.7,158.5 250.4,158.1" class="b"/>
<polygon points="252.4,156.4 254.8,151.8 258.8,150.8 260.4,153.8 256.8,157.2" class="b"/>
<polygon points="252.4,156.4 254.8,151.8 258.8,150.8 260.4,153.8 256.8,157.2" class="bf"/>
<polygon points="254.0,154.8 258.5,151.4 259.0,155.3 256.9,156.4 255.4,156.0 254.6,155.4" class="b"/>
<polygon points="320.9,163.8 328.9,153.8 337.8,149.8 341.8,140.9 352.8,130.5 373.7,130.9 377.1,142.9 373.7,151.8 366.7,160.8 357.8,174.3 334.9,178.7 323.9,175.7" class="r"/>
<polygon points="331.9,158.8 338.8,146.9 344.8,139.9 352.8,130.9 364.7,130.1 374.7,131.9 374.7,144.9 367.7,153.8 358.8,158.8 348.8,166.8 338.8,167.8" class="r"/>
<polygon points="348.6,146.9 355.5,142.2 358.5,142.6 357.0,150.9 356.8,151.3 350.8,152.7" class="r"/>
<polygon points="335.5,163.3 336.1,156.6 349.9,148.7 352.0,150.4 339.0,164.8" class="r"/>
<polygon points="342.4,155.7 352.7,140.2 360.3,139.8 360.9,149.7 344.7,157.3" class="r"/>
<polygon points="335.9,159.8 341.8,150.8 348.8,145.9 355.8,144.9 358.8,149.8 354.8,157.8 345.8,162.8" class="r"/>
<polygon points="343.8,153.4 345.7,150.5 348.8,148.4 355.2,150.7 353.7,156.7 345.0,158.7" class="r"/>
<polygon points="338.1,155.7 339.9,153.6 343.2,150.5 346.2,149.1 352.3,154.4 351.9,156.1 348.4,160.0 338.2,160.6" class="r"/>
<polygon points="356.8,136.9 362.7,133.9 369.7,135.9 371.7,143.9 366.7,150.8 360.8,151.8 356.8,144.9" class="r"/>
<polygon points="360.0,143.5 361.0,139.2 361.4,138.2 364.2,138.2 363.8,145.7 361.5,145.0" class="r"/>
<polygon points="360.4,145.2 363.7,137.8 366.4,141.6 366.9,142.3 364.0,145.9 360.6,145.9" class="r"/>
<polygon points="358.8,140.9 364.7,138.9 367.7,143.9 363.7,147.9 359.8,146.9" class="r"/>
<polygon points="359.2,144.1 359.3,143.2 365.6,142.4 365.5,143.1 360.6,145.7" class="r"/>
<polygon points="360.6,142.5 361.9,140.3 365.2,139.3 365.5,139.5 366.9,143.3 364.2,145.3" class="r"/>
<polygon points="330.9,162.8 333.9,155.8 340.8,151.8 346.8,152.8 347.8,162.8 340.8,168.8 333.9,167.8" class="r"/>
<polygon points="335.5,157.0 336.2,156.0 342.7,153.8 343.4,153.8 345.5,155.4 346.1,156.1 344.4,162.2 340.8,163.8" class="r"/>
<polygon points="332.3,160.2 332.4,158.9 334.5,156.5 338.5,153.7 344.0,163.4 343.1,164.8 337.6,168.2 335.5,167.2" class="r"/>
<polygon points="342.8,156.8 345.2,151.8 349.8,147.9 353.8,148.8 354.8,153.8 349.8,157.8 344.8,158.8" class="b"/>
<polygon points="345.5,155.2 348.5,150.1 351.1,149.8 353.0,150.9 352.9,152.2 352.0,156.1 347.6,157.5" class="b"/>
<polygon points="347.8,152.8 350.4,147.9 354.4,148.5 354.8,152.8 350.8,155.2" class="b"/>
<polygon points="347.8,152.8 350.4,147.9 354.4,148.5 354.8,152.8 350.8,155.2" class="bf"/>
<polygon points="350.5,152.7 351.3,149.7 352.4,149.7 353.2,149.9 353.3,150.3 353.3,153.0 351.8,153.6" class="b"/>
<polygon points="343.8,156.4 346.4,152.8 349.8,153.2 347.8,157.8" class="b"/>
<polygon points="343.8,156.4 346.4,152.8 349.8,153.2 347.8,157.8" class="bf"/>
<polygon points="343.8,156.1 344.1,155.2 345.1,154.7 346.5,155.1 346.5,157.2 344.9,157.8 344.1,157.5" class="b"/>
<polygon points="333.9,160.8 339.8,149.8 347.8,142.9 356.8,139.9 362.7,142.9 361.7,152.8 352.8,161.8 340.8,165.8" class="r"/>
<polygon points="338.7,157.2 340.3,154.6 346.5,150.0 352.1,147.8 354.6,148.7 340.2,160.8" class="r"/>
<polygon points="341.1,156.1 345.8,149.7 351.2,148.1 358.0,151.0 350.8,159.1 343.9,159.8 342.4,157.8" class="r"/>
<polygon points="343.6,153.7 346.9,149.3 347.8,148.6 351.2,148.2 355.8,150.4 351.5,158.0 350.4,157.8 343.8,155.3" class="r"/>
<polygon points="407.2,149.9 427.5,123.0 458.6,121.8 471.8,129.6 473.0,147.5 464.6,159.5 456.2,165.5 435.9,167.8 422.7,176.2 409.6,174.4" class="r"/>
<polygon points="412.0,157.1 417.3,151.1 426.3,142.1 435.9,141.5 441.9,146.3 439.5,155.9 431.1,166.7 422.7,171.4 413.2,170.2" class="r"/>
<polygon points="421.6,154.8 429.4,144.8 432.5,144.3 436.8,145.2 438.4,147.8 437.4,153.3 424.8,162.0" class="r"/>
<polygon points="422.7,149.9 433.5,143.3 444.3,140.9 453.8,136.7 458.6,139.1 459.8,147.5 456.2,155.9 450.2,164.3 439.5,166.1 428.7,161.9" class="r"/>
<polygon points="439.8,157.4 440.5,143.1 455.8,136.2 456.6,136.8 462.8,142.8 463.1,150.8 442.8,156.5" class="r"/>
<polygon points="425.1,151.1 434.7,145.7 443.1,142.7 450.2,139.1 456.2,140.3 457.4,147.5 452.6,155.9 446.7,160.7 435.9,163.1 427.5,159.5" class="r"/>
<polygon points="426.7,162.9 450.1,148.6 442.5,161.1" class="r"/>
<polygon points="417.9,155.9 423.9,146.3 431.1,142.7 439.5,141.5 445.5,143.9 447.8,151.1 443.1,158.3 434.7,164.3 426.3,166.7 419.1,164.3" class="r"/>
<polygon points="422.6,156.6 434.7,147.0 439.2,151.8 436.9,157.9 432.0,160.4 426.9,161.8 423.5,160.0" class="r"/>
<polygon points="420.3,155.9 425.1,148.7 432.3,145.1 439.5,143.9 444.3,146.3 444.3,153.5 438.3,159.5 429.9,163.1 422.7,161.9" class="r"/>
<polygon points="422.7,155.9 427.5,149.9 433.5,146.9 439.5,146.3 442.5,149.9 440.7,155.9 434.7,160.1 427.5,161.3" class="r"/>
<polygon points="428.6,156.2 429.2,152.4 439.4,155.8 437.3,157.2 433.6,159.0" class="r"/>
<polygon points="431.3,155.9 431.3,155.0 433.4,152.9 436.8,153.7 436.6,154.6 435.3,156.1 433.7,156.8 431.7,156.7" class="r"/>
<polygon points="414.4,159.5 419.1,152.3 425.7,148.7 428.7,154.7 426.3,163.1 420.3,167.8 414.4,166.7" class="r"/>
<polygon points="434.1,151.7 435.9,150.1 438.3,150.9 439.5,153.5 437.7,155.6 435.3,155.6 434.1,153.7" class="b"/>
<polygon points="433.6,151.7 436.4,150.4 437.2,150.9 437.4,151.2 437.6,151.9 437.0,153.6 436.8,153.8 436.6,153.8" class="b"/>
<polygon points="429.9,155.9 431.1,154.1 432.9,154.1 433.5,156.5 431.7,158.3 430.1,158.0" class="b"/>
<polygon points="429.9,155.9 431.1,154.1 432.9,154.1 433.5,156.5 431.7,158.3 430.1,158.0" class="bf"/>
<polygon points="430.1,155.5 431.4,154.0 432.3,154.2 432.8,154.5 432.5,156.6 431.7,157.2" class="b"/>
<polygon points="423.3,153.8 438.3,145.5 441.9,148.9 442.4,150.2 427.5,162.7 424.5,158.2" class="r"/>
<polygon points="425.1,155.9 429.3,151.1 434.7,149.3 439.5,149.9 440.1,154.7 435.9,158.3 429.9,159.5" class="r"/>
<polygon points="499.2,172.6 502.8,163.1 511.1,154.7 525.5,132.6 543.4,134.4 550.6,130.2 561.4,131.4 565.0,137.9 563.8,148.7 554.2,159.5 542.2,169.0 530.3,177.4 506.4,178.6" class="r"/>
<polygon points="504.0,172.6 507.6,163.1 515.9,154.7 525.5,148.7 539.8,140.3 549.4,135.0 559.0,134.4 562.6,140.3 560.8,151.1 551.8,159.5 539.8,167.8 527.9,173.8 513.5,176.2" class="r"/>
<polygon points="509.9,171.4 512.3,161.9 519.5,153.5 527.9,147.5 539.8,141.5 548.2,137.9 554.2,140.3 554.2,149.9 547.0,159.5 537.5,166.7 526.7,171.4 515.9,173.8" class="r"/>
<polygon points="523.6,161.2 524.0,159.3 542.3,153.7 538.1,160.4 525.5,167.1 524.6,165.2" class="r"/>
<polygon points="511.1,165.5 515.9,155.9 524.3,148.7 533.9,143.9 544.6,141.5 551.8,143.9 551.8,151.1 545.8,159.5 536.3,165.5 525.5,167.8 515.9,169.0" class="r"/>
<polygon points="522.6,162.7 523.8,148.8 525.8,146.6 544.2,146.1 545.3,146.2 544.1,154.7" class="r"/>
<polygon points="518.3,163.1 520.7,154.7 526.7,147.5 535.1,142.7 543.4,142.1 548.2,145.1 547.0,153.5 539.8,160.7 531.5,164.3 523.1,165.5" class="r"/>
<polygon points="523.2,158.7 526.0,154.3 537.3,150.5 538.9,153.3 539.5,154.4 533.3,161.0 524.0,159.5" class="r"/>
<polygon points="520.7,160.7 523.1,153.5 529.1,148.7 536.3,146.3 542.2,147.5 543.4,153.5 538.7,159.5 530.3,163.1 524.3,163.1" class="r"/>
<polygon points="524.0,154.9 524.1,154.3 530.7,149.7 536.2,158.0 535.2,159.6 527.5,162.2 525.0,161.4" class="r"/>
<polygon points="527.9,155.9 530.3,149.9 536.3,145.1 542.2,143.9 545.8,147.5 544.6,153.5 539.8,157.1 532.7,158.3" class="r"/>
<polygon points="532.9,153.5 533.7,149.6 536.6,146.9 542.2,151.1 540.8,152.1 536.6,154.4 533.9,154.8" class="r"/>
<polygon points="500.4,170.2 505.2,165.5 511.1,163.1 515.9,167.8 513.5,173.8 506.4,175.0" class="r"/>
<polygon points="518.3,158.3 520.7,152.3 525.5,147.5 532.7,143.9 542.2,143.9 546.4,146.9 545.2,154.7 539.8,161.9 532.7,165.5 525.5,166.7 520.1,164.3" class="b"/>
<polygon points="521.9,158.3 524.3,152.3 529.1,148.7 535.1,146.3 541.0,146.9 542.2,152.3 538.7,158.3 532.7,161.9 526.7,162.5" class="b"/>
<polygon points="521.9,158.3 524.3,152.3 529.1,148.7 535.1,146.3 541.0,146.9 542.2,152.3 538.7,158.3 532.7,161.9 526.7,162.5" class="bf"/>
<polygon points="526.7,157.1 529.1,152.3 533.9,149.3 539.2,149.3 539.8,153.5 536.3,158.3 530.3,160.1" class="b"/>
<polygon points="526.7,157.1 529.1,152.3 533.9,149.3 539.2,149.3 539.8,153.5 536.3,158.3 530.3,160.1" class="bf"/>
<polygon points="531.5,154.7 533.3,150.5 537.5,149.3 541.0,151.1 539.8,155.3 535.7,157.1" class="b"/>
<polygon points="531.5,154.7 533.3,150.5 537.5,149.3 541.0,151.1 539.8,155.3 535.7,157.1" class="bf"/>
<polygon points="535.1,152.3 536.9,147.5 541.0,145.7 544.6,148.1 543.4,152.9 539.2,154.1" class="b"/>
<polygon points="535.1,152.3 536.9,147.5 541.0,145.7 544.6,148.1 543.4,152.9 539.2,154.1" class="bf"/>
<polygon points="595.9,163.8 602.9,152.4 608.9,151.8 615.8,170.8 612.8,176.7 600.9,174.7" class="r"/>
<polygon points="603.2,165.6 604.1,161.8 606.0,159.5 610.2,162.4 611.4,164.2 612.0,167.1 608.2,172.1" class="r"/>
<polygon points="599.7,162.4 600.7,157.7 601.4,157.2 606.7,158.3 608.5,163.7 607.9,165.1" class="r"/>
<polygon points="606.9,149.8 615.8,138.9 623.8,130.9 633.8,128.9 645.7,130.9 650.7,137.9 650.7,148.8 642.7,157.8 631.8,164.8 621.8,167.8 610.9,164.8 605.9,156.8" class="r"/>
<polygon points="609.9,154.8 615.8,144.9 624.8,138.9 633.8,137.9 639.7,140.9 640.7,148.8 635.8,156.8 625.8,163.8 613.8,164.8" class="r"/>
<polygon points="615.0,156.2 618.1,148.9 628.5,144.3 631.2,145.1 633.9,151.2 632.6,153.3 617.2,160.5 616.3,160.3" class="r"/>
<polygon points="612.9,161.5 613.2,150.6 619.1,146.9 636.6,150.1 619.1,165.4" class="r"/>
<polygon points="614.5,155.7 628.9,149.1 629.0,151.9 625.5,158.0 623.8,158.9 620.5,160.5 614.7,159.1" class="r"/>
<polygon points="615.0,150.7 617.7,146.9 620.4,144.6 624.9,142.2 631.1,142.5 634.5,147.4 620.3,158.3 615.5,155.9" class="r"/>
<polygon points="611.8,156.8 617.8,147.9 624.8,142.9 631.8,141.9 636.7,145.9 635.8,153.8 628.8,159.8 618.8,161.8" class="r"/>
<polygon points="619.5,153.1 628.9,148.6 630.4,150.8 630.4,153.9 627.9,155.7 624.2,157.9 620.3,156.3 619.6,153.6" class="r"/>
<polygon points="616.8,152.2 620.5,147.1 626.4,144.9 622.7,159.3 618.5,158.2" class="r"/>
<polygon points="621.5,152.1 621.7,150.5 630.4,146.9 631.0,147.1 630.7,148.0 629.0,151.6 626.9,153.3" class="r"/>
<polygon points="637.7,134.9 644.7,133.3 648.7,136.9 649.7,146.9 642.7,153.8 637.7,150.8" class="r"/>
<polygon points="639.8,139.5 642.8,136.5 645.2,136.1 646.4,142.3 645.8,144.7 645.1,145.4 641.4,145.4 640.0,140.2" class="r"/>
<polygon points="639.3,134.8 644.7,132.1 646.0,131.7 648.8,134.9 649.7,139.8 646.6,144.7 641.2,147.3" class="r"/>
<polygon points="601.9,166.8 605.9,155.8 612.8,152.8 618.8,154.8 619.8,164.8 613.8,170.8 605.9,170.8" class="r"/>
<polygon points="606.1,158.8 608.7,156.1 616.9,161.4 615.4,164.4 613.6,165.1 609.5,164.9 606.5,160.2" class="r"/>
<polygon points="607.2,168.0 607.8,159.9 612.3,157.9 614.0,158.9 611.7,168.7 611.3,169.0" class="r"/>
<polygon points="617.8,155.8 619.8,150.8 624.2,148.5 628.8,149.8 628.8,154.8 624.8,158.4 619.8,159.2" class="b"/>
<polygon points="624.6,150.4 627.6,149.5 628.5,149.9 628.8,152.3 626.4,154.9 626.2,154.5" class="b"/>
<polygon points="621.8,154.8 623.4,150.8 626.8,149.8 628.2,153.2 625.4,156.4" class="b"/>
<polygon points="621.8,154.8 623.4,150.8 626.8,149.8 628.2,153.2 625.4,156.4" class="bf"/>
<polygon points="623.7,153.3 624.0,152.6 626.2,154.3 625.8,154.5 624.5,155.1" class="b"/>
<polygon points="619.0,156.2 619.9,152.6 621.0,150.0 623.7,148.5 626.2,147.5 629.1,148.6 630.9,154.4 623.3,159.6" class="r"/>
<polygon points="681.9,169.8 688.8,152.8 700.8,140.9 710.8,132.9 723.7,124.9 740.6,127.9 748.2,130.9 748.6,140.9 742.6,146.9 732.7,155.8 716.7,164.8 706.8,172.8 690.8,179.7 683.9,176.7" class="r"/>
<polygon points="690.8,168.8 696.8,154.8 706.8,144.9 716.7,136.9 728.7,130.9 742.6,130.9 746.6,136.9 742.6,146.9 730.7,154.8 716.7,162.8 702.8,170.8 693.8,172.8" class="r"/>
<polygon points="698.8,163.8 703.8,153.8 712.7,145.9 722.7,136.9 732.7,133.9 739.6,136.9 738.6,146.9 728.7,154.8 714.7,161.8 704.8,166.8" class="r"/>
<polygon points="693.6,163.4 693.7,162.0 713.7,147.5 719.9,158.7 717.3,161.4 701.4,170.7 700.0,170.6" class="r"/>
<polygon points="715.7,150.0 721.4,144.7 727.2,143.2 728.2,143.1 730.3,143.3 731.1,143.6 729.6,148.2 723.4,154.0" class="r"/>
<polygon points="709.7,159.6 710.9,144.6 718.6,137.0 720.6,136.6 736.4,142.1 734.2,145.2" class="r"/>
<polygon points="710.2,148.7 718.8,140.4 726.8,134.4 736.4,132.3 741.2,134.7 734.2,155.9 732.3,156.7" class="r"/>
<polygon points="708.8,156.8 714.7,148.8 722.7,140.9 730.7,136.9 736.6,138.9 736.6,146.9 728.7,153.8 716.7,159.8" class="r"/>
<polygon points="719.1,151.5 719.6,149.1 731.7,136.1 733.7,136.1 735.7,136.8 738.0,138.3 735.1,146.7 734.5,147.5" class="r"/>
<polygon points="715.5,148.4 717.0,146.2 718.2,145.5 721.1,157.4 716.6,156.3" class="r"/>
<polygon points="709.5,152.6 719.0,141.2 724.8,140.5 731.9,145.4 731.8,146.1 726.4,155.0 720.2,158.1 713.0,157.2" class="r"/>
<polygon points="709.4,156.4 710.1,152.5 717.6,144.6 732.4,147.8 732.2,148.7 728.4,153.5 723.2,157.5 713.6,158.0" class="r"/>
<polygon points="712.7,156.8 717.7,149.8 724.7,142.9 732.7,140.9 736.6,144.9 732.7,151.8 722.7,157.8" class="r"/>
<polygon points="714.1,154.5 715.3,151.3 719.4,148.3 729.8,145.4 730.6,146.7 731.0,148.4 722.2,158.2" class="r"/>
<polygon points="721.0,153.7 722.3,144.8 722.9,144.3 731.0,140.1 735.1,142.7 726.0,155.5" class="r"/>
<polygon points="722.4,155.6 724.4,144.3 734.2,149.1 730.9,153.6 728.5,155.2 726.6,156.0" class="r"/>
<polygon points="722.7,138.9 729.7,133.3 736.6,134.9 738.6,143.9 733.7,148.8 725.7,148.8" class="r"/>
<polygon points="726.7,137.2 727.0,136.4 729.9,133.6 730.9,133.9 734.0,139.6 734.0,139.7 728.0,140.4" class="r"/>
<polygon points="725.9,148.0 727.5,140.3 731.6,138.5 732.4,138.5 736.9,143.1 737.0,145.8 729.0,149.4" class="r"/>
<polygon points="703.8,157.8 706.8,150.8 712.7,146.9 718.7,145.9 720.7,150.8 716.7,158.8 710.8,163.8 705.8,163.8" class="b"/>
<polygon points="704.4,161.1 706.8,154.0 713.3,155.5 712.4,160.7 708.8,162.5 705.6,162.9 704.6,161.6" class="b"/>
<polygon points="708.8,155.8 712.7,149.8 720.7,142.9 728.7,139.9 732.7,143.9 729.7,150.8 720.7,156.8 712.7,158.8" class="b"/>
<polygon points="708.8,155.8 712.7,149.8 720.7,142.9 728.7,139.9 732.7,143.9 729.7,150.8 720.7,156.8 712.7,158.8" class="bf"/>
<polygon points="714.9,152.8 716.1,151.0 723.4,146.5 726.2,149.0 726.7,150.8 715.2,154.5" class="b"/>
<polygon points="714.7,153.8 719.7,146.9 726.7,143.3 730.7,145.9 727.7,151.8 719.7,155.8" class="b"/>
<polygon points="714.7,153.8 719.7,146.9 726.7,143.3 730.7,145.9 727.7,151.8 719.7,155.8" class="bf"/>
<polygon points="719.3,149.2 725.2,146.6 725.7,147.0 725.1,149.9" class="b"/>
<polygon points="718.7,152.8 722.7,146.9 727.7,145.3 728.7,149.8 723.7,153.2" class="b"/>
<polygon points="718.7,152.8 722.7,146.9 727.7,145.3 728.7,149.8 723.7,153.2" class="bf"/>
<polygon points="719.6,150.6 720.4,149.9 722.8,148.3 724.0,151.4 722.3,152.7 721.6,153.0 721.2,153.0" class="b"/>
<polygon points="720.8,147.2 723.5,144.8 724.4,144.3 729.0,143.1 729.8,142.9 726.0,153.3 723.3,154.4" class="r"/>
<polygon points="46.0,268.9 48.0,264.9 55.0,256.9 60.9,250.0 72.9,245.0 85.9,241.0 92.8,242.5 95.8,249.0 93.8,254.9 86.9,260.9 81.9,265.9 74.9,273.9 65.9,278.9 60.9,281.9 52.0,280.9 47.0,277.9" class="r"/>
<polygon points="47.0,273.9 50.0,264.9 56.0,257.9 62.9,254.9 65.9,260.9 63.9,270.9 58.9,277.9 51.0,278.9" class="r"/>
<polygon points="53.9,270.1 54.2,268.0 54.6,266.4 56.5,263.5 62.0,266.5 59.2,270.9 57.8,272.2" class="r"/>
<polygon points="53.0,267.9 56.9,260.9 62.9,254.9 69.9,250.0 77.9,246.0 85.9,244.0 91.8,246.0 92.8,251.9 87.9,257.9 81.9,263.9 73.9,269.9 64.9,272.9 56.9,272.9" class="r"/>
<polygon points="57.9,266.9 60.9,260.9 65.9,255.9 71.9,251.9 78.9,249.0 84.9,248.0 87.9,251.0 86.9,255.9 81.9,260.9 74.9,265.9 66.9,268.9 60.9,268.9" class="r"/>
<polygon points="64.2,263.4 65.5,260.2 78.8,251.5 83.5,252.8 79.2,262.9 73.6,265.9 70.8,267.0" class="r"/>
<polygon points="65.7,256.1 67.2,254.0 73.3,251.4 77.1,251.6 75.1,260.1 74.0,260.7" class="r"/>
<polygon points="62.9,265.5 63.0,263.8 64.5,259.8 68.0,255.7 72.6,252.1 75.8,251.6 77.4,263.3" class="r"/>
<polygon points="64.3,263.1 64.8,262.1 70.7,257.6 71.2,257.2 73.0,256.9 76.8,262.0 72.2,265.1 66.6,266.4" class="r"/>
<polygon points="76.9,255.0 79.4,253.3 81.6,252.5 85.3,252.4 85.8,256.9 81.0,261.0 78.9,261.6" class="r"/>
<polygon points="77.9,247.0 83.9,244.5 89.9,245.0 92.8,249.0 91.8,253.9 87.9,256.9 82.9,255.9" class="r"/>
<polygon points="78.9,244.5 86.0,244.2 89.2,250.7 88.0,252.6 81.2,251.8" class="r"/>
<polygon points="52.0,272.9 55.0,266.9 59.9,263.9 64.9,264.9 65.9,270.9 61.9,275.9 56.0,276.9" class="r"/>
<polygon points="54.5,272.1 57.0,270.2 59.3,270.5 60.1,270.8 60.2,272.1 55.7,275.4" class="r"/>
<polygon points="68.4,262.9 69.4,259.9 71.9,257.4 74.9,255.4 77.9,255.4 78.9,257.9 77.4,260.9 74.4,263.4 70.9,264.4" class="b"/>
<polygon points="69.9,261.9 71.4,259.4 74.4,257.4 77.4,257.1 77.7,259.4 75.4,261.7 72.4,262.9" class="b"/>
<polygon points="72.9,260.9 74.4,258.4 76.9,257.7 77.4,259.7 75.4,261.4" class="b"/>
<polygon points="72.9,260.9 74.4,258.4 76.9,257.7 77.4,259.7 75.4,261.4" class="bf"/>
<polygon points="61.9,265.9 64.9,260.9 69.9,256.9 75.9,253.9 81.9,252.9 84.9,254.9 83.9,258.9 78.9,262.9 71.9,265.9 65.9,266.9" class="r"/>
<polygon points="65.9,262.4 67.4,259.0 69.8,257.1 75.2,254.7 79.0,257.6 75.4,262.5 66.9,263.0" class="r"/>
<polygon points="132.0,274.3 135.6,265.9 141.6,257.5 149.9,250.9 161.9,245.6 176.2,241.4 183.4,242.0 185.8,246.7 184.6,256.3 178.6,264.7 171.5,270.7 161.9,281.4 152.3,286.2 141.6,286.2 134.4,281.4" class="r"/>
<polygon points="133.2,273.1 140.4,264.7 149.9,259.9 152.3,268.3 151.1,277.8 141.6,280.2 135.6,279.0" class="r"/>
<polygon points="179.8,242.0 193.0,236.0 197.8,237.2 199.0,243.2 197.8,247.9 191.8,253.3 185.8,252.7 181.0,249.1" class="r"/>
<polygon points="136.8,280.2 139.2,269.5 143.9,262.3 153.5,256.3 164.3,249.1 176.2,245.6 183.4,247.9 183.4,257.5 176.2,265.9 166.7,275.5 157.1,282.6 146.3,285.0" class="r"/>
<polygon points="149.9,265.9 153.5,257.5 161.9,249.1 171.5,243.2 179.8,243.2 185.8,247.9 184.6,253.9 177.4,259.9 169.1,267.1 159.5,271.9 152.3,271.9" class="r"/>
<polygon points="157.2,259.7 158.2,257.3 172.1,244.5 181.3,254.3 178.6,260.7 171.9,265.2 160.4,268.5 159.4,266.9" class="r"/>
<polygon points="157.7,263.9 165.6,249.2 173.0,245.0 182.8,244.1 187.7,251.5 183.2,256.8 167.9,267.1" class="r"/>
<polygon points="151.1,269.5 154.7,261.1 161.9,253.9 170.3,249.1 177.4,247.9 182.2,250.3 181.0,257.5 173.8,263.5 165.5,268.3 157.1,271.9" class="r"/>
<polygon points="160.1,262.5 166.3,255.2 172.8,252.5 178.6,257.0 177.8,259.6 161.8,265.7" class="r"/>
<polygon points="155.9,260.4 158.9,257.1 160.1,256.1 165.9,253.0 170.8,251.8 174.2,260.3 170.5,263.9 169.2,264.5" class="r"/>
<polygon points="154.7,268.3 158.3,261.1 164.3,255.7 171.5,252.7 176.2,253.9 176.2,259.9 170.3,264.7 163.1,268.3" class="r"/>
<polygon points="155.5,264.5 159.1,259.6 170.1,253.8 171.6,263.8 168.2,266.2 157.6,265.9" class="r"/>
<polygon points="157.0,267.5 163.1,259.1 165.3,264.6 164.5,265.3 160.3,267.4 158.6,267.6" class="r"/>
<polygon points="158.3,265.9 160.7,259.9 166.7,255.1 173.8,251.5 179.8,247.9 183.4,249.1 182.2,253.9 176.2,258.7 167.9,264.7" class="r"/>
<polygon points="165.3,261.1 167.6,254.7 175.7,251.9 177.5,252.9 177.5,254.9 176.3,256.6 171.7,261.0 167.3,261.7" class="r"/>
<polygon points="160.7,261.1 161.9,256.3 165.5,252.7 170.3,251.5 173.8,253.9 173.8,258.7 170.3,263.5 165.5,264.7 161.9,264.1" class="b"/>
<polygon points="162.8,261.8 163.1,255.5 165.8,254.3 170.8,255.8 163.7,262.3 162.8,262.8" class="b"/>
<polygon points="162.5,260.5 164.3,256.3 167.9,253.9 171.5,254.5 172.1,258.7 168.5,262.3 164.9,262.9" class="b"/>
<polygon points="162.5,260.5 164.3,256.3 167.9,253.9 171.5,254.5 172.1,258.7 168.5,262.3 164.9,262.9" class="bf"/>
<polygon points="164.2,258.6 165.8,256.3 170.2,255.6 170.7,256.2 169.8,260.7 167.5,262.2 165.8,262.1" class="b"/>
<polygon points="164.3,259.9 166.1,256.9 169.1,255.7 170.9,258.1 169.1,261.1 166.1,261.7" class="b"/>
<polygon points="164.3,259.9 166.1,256.9 169.1,255.7 170.9,258.1 169.1,261.1 166.1,261.7" class="bf"/>
<polygon points="166.0,258.6 168.1,256.3 170.1,259.0 170.0,259.2 169.7,259.5 168.7,260.4 168.0,260.6 167.2,260.8 167.1,260.8" class="b"/>
<polygon points="167.8,257.9 178.4,253.1 178.8,255.1 174.2,260.8 173.0,261.2 168.8,262.1" class="r"/>
<polygon points="223.9,270.8 232.9,254.8 242.9,246.9 252.8,238.9 261.8,239.3 266.8,239.9 272.7,236.9 280.7,234.5 288.7,235.9 290.7,248.9 284.7,260.8 275.7,268.8 258.8,279.7 238.9,287.7 226.9,283.7" class="r"/>
<polygon points="237.9,268.8 241.9,258.8 250.8,250.9 262.8,240.9 272.7,236.9 281.7,235.9 285.7,240.9 284.7,250.9 276.7,258.8 268.8,265.8 258.8,273.8 246.8,274.8" class="r"/>
<polygon points="259.8,249.4 260.9,247.2 268.1,243.3 275.5,240.4 279.7,240.7" class="r"/>
<polygon points="251.0,256.7 271.5,238.4 282.3,244.6 277.2,257.1 273.6,260.2 257.8,263.1 252.9,260.6" class="r"/>
<polygon points="249.7,260.0 250.9,256.9 258.1,246.0 264.6,241.6 284.5,242.2 285.2,244.9 258.6,269.4 251.5,264.2" class="r"/>
<polygon points="254.1,259.6 258.2,248.1 268.9,238.5 282.1,233.7 285.7,235.8 271.2,260.3" class="r"/>
<polygon points="240.9,264.8 247.8,255.8 257.8,247.9 266.8,244.9 274.7,245.9 277.7,251.9 274.7,259.8 265.8,265.8 254.8,271.8 243.9,271.8" class="r"/>
<polygon points="249.2,261.4 255.4,255.8 263.6,256.0 264.9,258.5 259.8,266.9 257.0,269.1 249.4,266.4" class="r"/>
<polygon points="255.2,254.5 256.2,251.7 258.7,250.0 268.1,250.6 268.9,254.3 266.9,257.3 259.1,260.7" class="r"/>
<polygon points="247.2,263.1 253.8,254.7 256.5,252.5 271.3,253.1 266.7,264.6 258.0,269.1" class="r"/>
<polygon points="243.9,263.8 249.8,255.8 258.8,250.5 266.8,248.9 272.7,251.9 271.7,258.8 264.8,263.8 254.8,267.8" class="r"/>
<polygon points="253.1,258.2 255.1,255.1 259.3,252.4 267.9,253.2 268.8,254.8 268.3,259.1 259.9,262.8" class="r"/>
<polygon points="258.6,259.5 261.8,255.6 270.2,258.2 266.2,262.6 263.5,263.0 258.8,261.4" class="r"/>
<polygon points="247.9,260.7 249.0,257.9 259.9,251.8 264.8,251.6 266.3,252.2 267.5,255.5 256.5,265.0 249.2,264.5" class="r"/>
<polygon points="254.3,258.8 255.1,256.9 255.9,255.6 258.9,253.3 266.3,257.4 264.6,259.3 258.8,262.1 255.6,260.8" class="r"/>
<polygon points="252.8,239.9 262.8,239.3 270.7,240.9 275.7,244.9 272.7,248.9 262.8,250.9 254.8,246.9" class="r"/>
<polygon points="257.8,246.7 261.1,241.8 265.4,242.0 271.0,247.2 266.5,249.5 259.7,247.7" class="r"/>
<polygon points="260.4,245.4 262.8,242.0 263.9,241.6 267.5,242.3 269.4,244.5 269.6,245.9" class="r"/>
<polygon points="255.8,259.8 257.8,253.9 262.8,249.9 268.8,249.9 271.7,253.9 267.8,259.8 261.8,262.8 257.8,262.8" class="b"/>
<polygon points="258.8,255.9 265.3,252.3 269.4,255.2 269.2,259.3 264.6,263.6 262.0,264.5 259.1,264.7" class="b"/>
<polygon points="258.8,258.8 260.8,253.9 265.8,251.9 269.7,253.9 266.8,258.8 261.8,260.8" class="b"/>
<polygon points="258.8,258.8 260.8,253.9 265.8,251.9 269.7,253.9 266.8,258.8 261.8,260.8" class="bf"/>
<polygon points="262.1,257.7 265.0,253.7 266.4,255.1 266.3,256.4 265.7,257.2" class="b"/>
<polygon points="261.8,256.8 263.8,252.9 267.8,252.9 267.8,256.8 264.8,258.8" class="b"/>
<polygon points="261.8,256.8 263.8,252.9 267.8,252.9 267.8,256.8 264.8,258.8" class="bf"/>
<polygon points="263.3,254.7 264.6,253.9 265.9,254.0 267.1,255.9 264.6,258.1" class="b"/>
<polygon points="259.3,253.4 263.9,253.9 266.2,255.9 263.5,263.8 260.1,265.1" class="r"/>
<polygon points="340.8,231.9 367.7,229.4 379.7,235.9 382.3,256.8 375.7,266.8 363.7,275.2 349.8,272.8 346.8,277.8 330.9,285.7 314.9,281.7 315.9,272.8 320.9,256.8 328.9,245.9" class="r"/>
<polygon points="352.8,245.9 362.7,244.9 366.7,250.9 364.7,261.2 358.8,261.8 351.8,256.8" class="r"/>
<polygon points="354.7,252.8 356.1,250.8 361.9,250.6 362.4,250.7 362.1,255.8 357.1,256.9 355.1,254.3" class="r"/>
<polygon points="355.2,254.2 357.8,248.5 360.8,247.9 364.3,250.2 364.5,253.3 358.3,258.6" class="r"/>
<polygon points="330.9,264.8 335.9,257.8 341.8,252.9 348.8,250.9 355.8,251.9 358.8,255.8 355.8,263.8 348.8,269.8 337.8,272.8 331.9,270.8" class="r"/>
<polygon points="341.6,257.7 348.3,255.0 350.2,262.2 347.2,264.4 345.9,264.8 342.1,263.2" class="r"/>
<polygon points="332.4,265.7 333.2,262.1 334.2,261.0 339.3,258.1 345.5,259.0 346.2,262.9 339.6,268.1" class="r"/>
<polygon points="336.8,261.4 346.6,249.7 352.3,251.3 354.1,254.4 351.1,262.1 343.0,267.1 337.0,265.1" class="r"/>
<polygon points="337.2,257.1 343.4,254.1 347.7,254.3 348.6,254.5 349.2,254.8 338.1,257.1" class="r"/>
<polygon points="332.9,265.8 337.8,258.8 343.8,254.5 350.8,253.5 355.8,255.8 353.8,262.8 346.8,267.8 337.8,269.8" class="r"/>
<polygon points="339.4,260.4 342.4,255.2 344.9,254.4 353.7,254.9 348.1,267.5 339.6,264.2" class="r"/>
<polygon points="341.0,263.4 341.1,261.1 342.5,259.3 345.5,257.7 347.1,256.9 344.6,265.9 341.1,265.3" class="r"/>
<polygon points="338.9,261.1 339.8,260.0 346.8,255.8 350.4,260.3 345.2,265.1 344.1,265.8" class="r"/>
<polygon points="340.5,260.2 343.9,256.2 348.8,255.4 347.2,260.6 341.4,262.1 341.1,262.0" class="r"/>
<polygon points="335.9,263.8 339.8,257.8 345.8,254.8 351.8,254.8 353.8,258.8 349.8,264.8 341.8,266.8" class="r"/>
<polygon points="339.8,260.8 342.3,256.4 349.0,253.7 351.3,262.0 350.1,263.1 348.0,264.2 346.1,264.3 342.1,263.6 340.3,262.4" class="r"/>
<polygon points="345.2,266.1 347.9,256.4 348.7,255.7 351.3,256.6 352.7,257.9 350.4,264.7 348.9,266.4 345.8,267.0" class="r"/>
<polygon points="339.0,259.9 339.3,259.4 340.9,257.8 348.2,263.9 348.6,264.5 343.6,265.3 340.3,265.0" class="r"/>
<polygon points="340.3,261.0 349.0,257.2 349.8,257.1 350.7,259.8 349.7,261.9 347.0,264.0" class="r"/>
<polygon points="337.8,262.8 341.8,256.8 347.8,254.8 351.8,256.8 350.8,261.8 344.8,265.8" class="r"/>
<polygon points="344.8,257.4 345.4,257.1 348.7,255.8 350.1,258.1 349.9,258.9 349.1,260.1 347.3,260.6 345.3,260.0 344.9,258.4" class="r"/>
<polygon points="343.5,258.2 345.2,256.9 345.9,256.5 346.6,256.6 347.7,256.9 349.7,259.8 344.9,262.4" class="r"/>
<polygon points="343.1,260.2 343.2,258.1 348.6,256.3 348.9,256.6 346.4,261.3 344.0,260.7 343.2,260.3" class="r"/>
<polygon points="342.4,260.5 342.5,260.3 343.7,258.6 346.2,257.4 348.3,261.0 344.3,262.7 343.1,261.4" class="r"/>
<polygon points="341.8,262.8 343.8,258.8 346.8,256.8 349.8,257.8 349.8,261.8 346.8,264.8 342.8,264.8" class="b"/>
<polygon points="342.6,260.5 343.1,258.9 344.1,258.1 347.3,257.9 349.1,259.5 349.1,260.0 345.4,263.4" class="b"/>
<polygon points="343.8,261.8 345.8,258.8 348.8,258.4 348.8,262.4 345.8,263.8" class="b"/>
<polygon points="343.8,261.8 345.8,258.8 348.8,258.4 348.8,262.4 345.8,263.8" class="bf"/>
<polygon points="344.3,261.2 345.0,259.9 345.6,259.6 348.0,261.4 344.6,263.3" class="b"/>
<polygon points="417.9,257.8 425.9,244.9 436.8,226.6 466.7,230.9 471.7,236.9 473.3,244.9 471.7,264.8 459.7,276.8 453.7,286.3 433.8,283.7 418.9,281.7" class="r"/>
<polygon points="422.9,268.8 429.8,258.8 439.8,247.9 449.8,235.9 465.7,233.9 471.7,238.9 471.7,256.8 461.7,266.8 449.8,276.8 433.8,276.8 424.9,275.8" class="r"/>
<polygon points="425.9,270.8 429.8,262.8 437.8,253.9 445.8,243.9 455.7,237.9 467.7,235.9 470.7,242.9 467.7,254.8 457.7,263.8 445.8,271.8 431.8,273.8" class="r"/>
<polygon points="450.7,259.8 452.5,243.5 456.5,241.9 461.2,240.8 464.9,243.8 464.8,245.5 463.3,248.9" class="r"/>
<polygon points="434.6,265.9 440.2,254.4 443.2,251.8 454.2,246.9 457.6,257.6 453.8,262.5 439.7,267.3 435.2,266.4" class="r"/>
<polygon points="443.7,255.0 449.7,247.8 466.4,247.2 466.9,251.6 463.7,254.9 450.3,265.1 445.2,263.5 444.3,262.2 443.9,259.7" class="r"/>
<polygon points="438.0,248.7 447.1,243.6 459.6,248.6 458.5,251.1 448.1,264.0 443.4,264.6" class="r"/>
<polygon points="429.8,268.8 433.8,259.8 441.8,251.9 449.8,244.9 458.7,241.9 465.7,242.9 467.7,250.9 461.7,258.8 451.8,265.8 439.8,270.8" class="r"/>
<polygon points="430.1,266.3 431.7,263.7 445.1,251.7 460.0,256.0 460.1,257.2 452.3,268.4" class="r"/>
<polygon points="447.4,247.2 452.1,244.2 462.4,249.1 462.7,249.4 460.6,253.9 450.8,264.9" class="r"/>
<polygon points="431.0,262.5 436.0,257.2 452.9,246.3 463.0,253.0 440.0,272.4 432.6,267.4" class="r"/>
<polygon points="441.9,262.3 443.8,248.0 451.3,242.3 463.4,252.4 456.6,260.6 454.5,261.7" class="r"/>
<polygon points="431.8,264.8 437.8,256.8 445.8,250.9 453.7,246.9 461.7,246.9 463.7,252.9 457.7,259.8 447.8,264.8 437.8,267.8" class="r"/>
<polygon points="435.1,257.6 435.8,256.0 456.8,247.8 461.4,250.6 459.7,256.9 445.0,266.0 441.4,265.9" class="r"/>
<polygon points="438.9,263.5 440.4,253.9 447.4,248.8 457.8,257.5 447.3,264.3" class="r"/>
<polygon points="428.6,265.5 429.5,264.7 450.7,256.7 452.0,260.2 450.1,262.8 450.0,262.9 441.9,268.3" class="r"/>
<polygon points="439.8,259.2 440.3,258.7 444.4,255.4 453.0,253.4 452.6,258.6 444.5,263.6 443.9,263.9 440.1,262.0" class="r"/>
<polygon points="435.8,264.8 440.8,256.8 447.8,251.9 455.7,249.9 460.7,252.9 457.7,258.8 449.8,263.8 440.8,266.4" class="r"/>
<polygon points="437.6,261.7 451.4,256.7 448.1,261.6 446.6,262.4 446.3,262.6" class="r"/>
<polygon points="437.7,262.1 439.9,257.8 441.4,254.9 449.1,252.8 451.6,252.7 453.5,255.0 451.0,261.8 439.6,264.5" class="r"/>
<polygon points="441.9,260.0 443.1,256.5 445.2,253.8 457.1,251.2 457.6,257.3 456.6,259.1 453.8,261.5 445.0,264.5 443.2,263.7" class="r"/>
<polygon points="423.9,271.8 427.8,264.8 434.8,261.8 438.8,268.8 434.8,274.8 426.9,276.8" class="r"/>
<polygon points="427.5,273.3 428.6,268.4 429.3,267.4 432.7,265.3 435.5,270.8 434.9,272.0 433.4,273.3 430.7,274.2" class="r"/>
<polygon points="426.4,270.5 427.3,268.5 428.6,267.2 431.6,265.6 435.5,271.4 435.5,272.8 434.8,273.9" class="r"/>
<polygon points="445.8,258.8 447.8,253.9 452.7,249.9 457.7,248.9 459.7,252.9 456.7,257.8 450.8,260.8" class="b"/>
<polygon points="446.7,255.1 448.9,249.7 450.5,248.6 451.9,248.1 453.1,248.2 449.4,259.1 446.8,256.8" class="b"/>
<polygon points="446.8,259.8 449.8,254.8 454.7,251.9 457.7,253.9 454.7,258.8 449.8,260.8" class="b"/>
<polygon points="446.8,259.8 449.8,254.8 454.7,251.9 457.7,253.9 454.7,258.8 449.8,260.8" class="bf"/>
<polygon points="449.7,255.8 449.8,255.6 454.2,254.0 454.6,254.6 454.8,256.9 452.1,258.3 449.7,256.8" class="b"/>
<polygon points="447.8,258.8 450.8,254.8 454.7,253.9 455.7,256.8 451.8,259.2" class="b"/>
<polygon points="447.8,258.8 450.8,254.8 454.7,253.9 455.7,256.8 451.8,259.2" class="bf"/>
<polygon points="448.6,257.5 452.3,255.8 452.5,256.3 452.0,258.0 451.9,258.1 450.5,258.6 449.5,258.9 448.9,258.8" class="b"/>
<polygon points="442.9,257.0 444.4,255.4 450.1,253.9 453.6,255.9 451.5,259.8 446.2,263.6 446.0,263.6" class="r"/>
<polygon points="504.9,272.8 507.9,267.8 514.9,263.2 519.8,264.8 531.8,267.8 535.8,272.8 524.8,282.7 507.9,280.7" class="r"/>
<polygon points="515.9,265.8 521.8,256.8 529.8,250.9 537.8,246.9 545.7,244.9 550.7,246.9 549.7,252.9 541.8,258.8 535.8,268.8 523.8,273.8 517.9,271.8" class="r"/>
<polygon points="517.9,264.8 522.8,257.8 529.8,252.9 536.8,249.9 541.8,250.9 541.8,256.8 535.8,262.8 528.8,267.8 520.8,268.8" class="r"/>
<polygon points="522.3,264.0 523.8,258.9 531.4,255.0 533.0,255.9 533.6,256.9 532.1,261.7 522.4,265.4" class="r"/>
<polygon points="525.4,263.3 527.0,260.1 532.1,256.4 534.1,257.3 534.8,261.4 531.1,264.3 528.0,265.3" class="r"/>
<polygon points="524.4,260.8 532.2,254.2 536.1,257.1 536.3,257.4 534.5,260.9 534.0,261.5 530.1,264.3 524.7,263.2" class="r"/>
<polygon points="522.9,262.4 525.1,259.4 526.6,264.9 523.4,264.9" class="r"/>
<polygon points="523.6,260.3 533.5,254.2 536.4,256.1 536.8,258.8 531.6,262.0" class="r"/>
<polygon points="522.0,262.9 522.7,260.3 529.9,255.3 534.1,259.3 528.2,265.3" class="r"/>
<polygon points="525.2,258.9 525.7,257.4 527.7,256.0 533.0,253.7 535.5,259.6 527.5,263.5" class="r"/>
<polygon points="527.3,257.8 528.9,256.8 530.9,255.5 534.2,255.7 535.6,256.9 536.3,258.0 536.3,259.0" class="r"/>
<polygon points="541.8,244.9 547.7,243.9 550.7,246.9 549.7,252.9 543.8,253.9" class="r"/>
<polygon points="545.4,246.2 545.7,245.5 550.8,249.3 549.4,251.0 546.1,250.8" class="r"/>
<polygon points="545.2,247.8 546.2,245.8 547.8,246.0 548.4,246.9 548.2,248.9 548.1,249.1 547.3,249.3 546.1,249.3 545.7,248.7" class="r"/>
<polygon points="521.8,262.8 525.8,257.8 530.8,255.8 535.8,255.8 536.8,259.8 531.8,263.8 524.8,264.8" class="r"/>
<polygon points="525.8,262.4 527.0,257.8 528.5,256.7 533.8,256.9 534.1,257.4 535.0,259.1 526.5,264.0 525.8,263.2" class="r"/>
<polygon points="526.4,262.1 526.7,260.1 532.5,256.6 535.0,256.7 535.1,260.6 531.4,263.6 528.2,263.4" class="r"/>
<polygon points="527.6,258.3 528.4,257.6 534.3,256.3 536.1,257.9 534.4,261.5 529.7,263.5" class="r"/>
<polyline points="531.8,262.8 541.8,243.3 551.7,241.3 555.3,244.5 555.3,259.8" class="r"/>
<polygon points="527.8,261.8 529.8,257.8 532.8,256.4 535.8,257.2 534.8,260.8 530.8,262.8" class="b"/>
<polygon points="529.0,260.2 530.0,258.8 531.0,258.2 533.1,257.8 533.5,260.1 532.4,261.8 530.5,262.4 529.9,262.2" class="b"/>
<polygon points="529.4,260.8 531.4,257.8 534.2,257.8 533.4,261.2" class="b"/>
<polygon points="529.4,260.8 531.4,257.8 534.2,257.8 533.4,261.2" class="bf"/>
<polygon points="528.3,261.7 528.5,260.9 530.4,259.3 531.0,259.2 531.9,259.8 531.3,262.1 528.3,261.7" class="b"/>
<polygon points="519.8,263.8 523.8,258.4 529.8,254.8 535.8,252.9 539.8,254.8 537.8,260.8 531.8,264.8 522.8,266.4" class="r"/>
<polygon points="524.2,261.7 526.3,259.7 529.9,261.2 526.7,263.9 525.3,263.5 524.6,262.6" class="r"/>
<polygon points="592.4,277.5 594.8,269.1 599.6,260.7 612.7,246.4 619.9,247.6 631.8,237.4 643.8,239.2 648.6,245.2 649.2,254.7 643.8,261.9 636.6,270.3 629.5,278.1 619.9,279.8 607.9,283.4 596.0,284.6" class="r"/>
<polygon points="593.6,272.7 599.6,266.7 606.7,264.3 611.5,271.5 607.9,279.8 599.6,282.2 594.8,279.8" class="r"/>
<polygon points="597.6,275.3 598.1,273.2 599.7,271.5 601.4,271.3 605.5,273.6 605.2,274.9 602.1,278.5 598.9,277.8" class="r"/>
<polygon points="599.6,267.9 600.7,260.7 607.9,252.3 616.3,248.7 623.5,245.2 631.8,239.2 641.4,240.4 646.2,245.2 646.2,253.5 640.2,261.9 631.8,269.1 622.3,275.1 612.7,277.5 604.3,276.3" class="r"/>
<polygon points="603.1,270.3 606.7,261.9 613.9,254.7 622.3,249.9 631.8,245.2 640.2,244.0 643.8,248.7 641.4,255.9 634.2,264.3 625.9,270.3 615.1,273.9 606.7,275.1" class="r"/>
<polygon points="618.3,264.1 622.4,251.5 633.2,249.3 635.2,253.7 634.1,256.9" class="r"/>
<polygon points="612.9,261.7 614.5,258.6 632.3,250.0 637.5,251.7 638.4,257.9 616.0,272.4" class="r"/>
<polygon points="619.3,268.1 621.9,255.2 629.6,250.2 631.2,249.9 638.1,252.7 633.8,261.4" class="r"/>
<polygon points="607.9,270.3 610.3,263.1 616.3,257.1 623.5,253.5 631.8,249.9 637.8,249.9 640.2,254.7 636.6,260.7 629.5,266.7 621.1,270.3 612.7,271.5" class="r"/>
<polygon points="609.3,263.0 626.4,255.2 628.2,257.9 615.7,270.9 612.6,270.1" class="r"/>
<polygon points="610.2,263.9 613.3,258.9 621.0,253.1 634.4,258.7 624.4,267.1 618.9,269.0 617.0,269.5" class="r"/>
<polygon points="611.5,269.1 613.9,263.1 618.7,258.3 624.7,255.9 630.7,254.7 634.2,257.1 633.0,263.1 627.1,267.9 618.7,270.3" class="r"/>
<polygon points="622.8,258.4 624.1,256.9 624.8,256.3 627.9,253.8 632.7,253.9 633.0,254.2 634.2,256.0" class="r"/>
<polygon points="620.1,263.8 622.8,258.1 624.4,257.2 628.2,255.2 632.6,259.1 632.2,260.1" class="r"/>
<polygon points="625.9,251.1 631.8,245.2 639.0,241.6 645.0,242.8 647.4,249.9 643.8,257.1 637.8,261.9 630.7,261.9" class="r"/>
<polygon points="634.1,250.3 637.5,247.8 638.3,247.2 639.8,247.8 643.4,253.2 641.8,256.3 636.8,257.7" class="r"/>
<polygon points="605.5,267.9 609.1,261.9 615.1,259.5 618.7,264.3 616.3,271.5 610.3,273.9" class="r"/>
<polygon points="609.2,263.8 610.0,262.9 612.2,262.5 614.2,263.9 614.4,265.3 614.4,266.3 612.1,268.4 610.9,269.3" class="r"/>
<polygon points="619.9,260.7 621.1,257.7 624.1,255.9 627.1,256.5 628.3,258.9 627.1,261.9 624.1,263.7 621.1,263.3" class="b"/>
<polygon points="622.9,256.7 627.0,259.6 625.5,261.9 623.1,262.2 623.0,262.2" class="b"/>
<polygon points="621.1,260.1 622.9,257.7 625.3,257.1 626.8,258.9 625.3,261.7 622.5,262.1" class="b"/>
<polygon points="621.1,260.1 622.9,257.7 625.3,257.1 626.8,258.9 625.3,261.7 622.5,262.1" class="bf"/>
<polygon points="622.5,258.9 626.0,257.2 624.2,261.0 623.8,261.1 622.9,260.5" class="b"/>
<polygon points="614.4,262.2 621.2,256.7 622.7,255.8 635.4,258.4 628.6,266.0 625.6,267.2 615.4,262.8" class="r"/>
<polygon points="620.0,263.7 627.4,256.7 630.8,257.6 631.1,261.4 629.9,262.6 624.6,265.3" class="r"/>
<polygon points="682.2,273.8 684.6,267.9 692.9,261.9 704.9,248.7 710.9,245.1 720.4,236.8 731.2,233.8 740.8,235.0 747.9,238.0 749.0,249.9 743.2,260.7 733.6,269.1 725.2,276.2 719.2,283.4 706.1,283.4 692.9,282.2 684.6,282.2" class="r"/>
<polygon points="690.5,265.5 696.5,258.3 704.9,249.9 714.5,243.9 724.0,239.2 733.6,238.0 740.8,240.4 743.2,248.7 738.4,257.1 728.8,265.5 719.2,272.7 708.5,277.4 697.7,276.2 691.7,272.7" class="r"/>
<polygon points="683.4,276.2 686.9,267.9 692.9,264.3 697.7,269.1 696.5,277.4 690.5,282.2 684.6,281.0" class="r"/>
<polygon points="688.1,272.2 688.4,268.4 689.4,266.8 690.2,266.0 691.1,265.3 696.0,271.5 689.9,275.5 688.2,273.5" class="r"/>
<polygon points="695.3,266.7 700.1,259.5 707.3,253.5 716.8,247.5 725.2,243.9 733.6,242.7 737.2,247.5 733.6,255.9 725.2,263.1 715.7,269.1 704.9,272.7 697.7,272.7" class="r"/>
<polygon points="711.1,261.3 724.4,248.9 726.3,250.5 725.5,255.5 724.7,256.9" class="r"/>
<polygon points="699.3,264.1 699.6,263.2 701.5,259.0 704.1,256.4 714.1,252.7 718.6,257.4 716.7,259.6 711.3,265.9 703.2,268.4" class="r"/>
<polygon points="716.8,240.4 724.0,236.2 732.4,234.4 740.8,236.2 745.6,241.6 744.4,249.9 738.4,257.1 731.2,255.9 722.8,249.9" class="r"/>
<polygon points="726.0,246.8 726.3,243.4 734.8,240.7 735.8,240.6 739.9,243.6 737.6,252.6 728.7,251.3" class="r"/>
<polygon points="697.7,265.5 702.5,258.3 709.7,253.5 718.0,249.9 726.4,248.7 731.2,252.3 728.8,258.3 720.4,264.3 710.9,269.1 702.5,269.1" class="r"/>
<polygon points="702.0,261.3 706.5,256.2 709.6,252.9 711.4,251.6 708.0,267.2 703.4,264.3" class="r"/>
<polygon points="704.9,261.8 706.8,258.2 709.2,257.5 724.2,258.1 722.8,262.4 716.1,268.0 710.0,269.2" class="r"/>
<polygon points="710.9,255.9 715.7,251.1 721.6,248.7 728.8,248.7 732.4,252.3 730.0,258.3 724.0,261.9 716.8,261.9" class="r"/>
<polygon points="719.9,256.0 729.0,249.2 732.7,252.8 732.6,253.8 729.2,257.2 727.4,257.5" class="r"/>
<polygon points="717.5,255.9 725.2,247.8 729.0,248.7 732.6,255.3 730.5,258.4 729.8,258.8 724.0,261.4" class="r"/>
<polygon points="733.6,240.4 739.6,239.2 743.2,242.7 742.0,249.9 737.2,253.5 733.6,249.9" class="r"/>
<polygon points="736.2,241.1 737.6,240.4 739.8,240.6 740.6,243.5 739.8,244.9 737.1,245.4 736.5,245.1 736.4,244.8" class="r"/>
<polygon points="703.7,261.9 706.1,255.9 712.1,249.9 719.2,245.1 725.2,243.9 731.2,246.3 733.6,252.3 731.2,259.5 726.4,265.5 721.6,271.5 716.8,273.2 708.5,271.5 703.7,267.9" class="b"/>
<polygon points="714.3,260.3 718.1,251.2 723.7,248.9 724.1,249.3 727.9,254.4 728.0,256.0 722.8,261.1 721.6,262.0 718.0,262.9" class="b"/>
<polygon points="704.9,264.3 708.5,257.1 714.5,252.3 721.6,248.7 728.8,248.7 732.4,252.3 730.0,258.3 724.0,264.3 716.8,267.9 709.7,268.5" class="b"/>
<polygon points="712.9,255.8 714.0,253.6 718.2,250.9 725.6,260.0 724.7,261.2 723.0,262.1 713.3,261.1" class="b"/>
<polygon points="709.7,261.9 712.1,257.1 716.8,253.5 722.8,251.7 727.6,253.5 727.6,258.3 722.8,261.9 716.8,264.3 712.1,264.3" class="b"/>
<polygon points="709.7,261.9 712.1,257.1 716.8,253.5 722.8,251.7 727.6,253.5 727.6,258.3 722.8,261.9 716.8,264.3 712.1,264.3" class="bf"/>
<polygon points="714.0,258.1 720.7,255.5 721.5,256.5 720.2,258.9 717.4,260.8" class="b"/>
<polygon points="715.7,259.5 718.0,255.3 722.8,252.9 727.6,254.1 728.2,257.7 724.6,260.7 719.2,261.9" class="b"/>
<polygon points="715.7,259.5 718.0,255.3 722.8,252.9 727.6,254.1 728.2,257.7 724.6,260.7 719.2,261.9" class="bf"/>
<polygon points="716.2,258.9 718.8,254.9 721.1,253.7 725.7,261.4 722.1,262.5 717.1,261.5" class="b"/>
<polygon points="719.2,257.1 721.6,253.5 725.2,252.9 727.6,255.3 726.4,258.3 722.8,259.5" class="b"/>
<polygon points="719.2,257.1 721.6,253.5 725.2,252.9 727.6,255.3 726.4,258.3 722.8,259.5" class="bf"/>
<polygon points="721.8,257.4 722.6,253.2 727.4,255.5 727.2,256.4 722.2,258.2" class="b"/>
<polygon points="55.8,365.9 65.6,356.0 82.9,346.1 102.7,349.8 107.0,359.1 105.1,367.1 99.0,375.7 87.9,383.1 76.7,386.9 60.7,391.8 55.8,389.3 54.5,381.9" class="r"/>
<polygon points="40.3,381.9 43.4,373.3 49.6,370.2 55.8,370.8 60.7,377.0 58.2,385.6 54.5,391.8 44.6,390.6" class="r"/>
<polygon points="47.7,384.9 50.5,375.8 54.0,376.0 56.5,378.5 55.2,385.3 50.7,385.9" class="r"/>
<polygon points="60.7,365.9 68.1,358.5 80.4,356.0 91.6,354.8 97.1,358.5 96.5,364.6 90.3,370.8 81.7,374.5 71.8,377.0 63.2,375.7" class="r"/>
<polygon points="63.3,367.9 65.1,365.4 70.2,360.7 83.3,360.0 84.0,368.6 73.2,374.8 72.6,374.4 65.4,369.5" class="r"/>
<polygon points="62.2,366.8 78.0,358.1 87.1,360.7 72.3,377.2 64.4,376.1 62.2,374.9" class="r"/>
<polygon points="64.4,367.1 70.6,360.9 80.4,357.8 90.3,357.2 94.6,359.7 94.0,364.6 87.9,369.6 79.2,372.0 70.6,373.3" class="r"/>
<polygon points="78.2,363.3 84.1,359.6 86.2,359.1 95.9,365.8 95.0,366.5" class="r"/>
<polygon points="74.9,363.7 83.2,360.1 85.0,360.7 87.0,362.0 87.3,364.3 86.2,365.8" class="r"/>
<polygon points="76.7,360.9 85.4,357.2 92.8,356.6 95.3,359.7 94.0,364.6 89.1,368.3 81.7,369.6 78.0,365.9" class="r"/>
<polygon points="84.5,363.2 89.8,359.5 91.5,359.1 93.7,360.4 94.9,361.7 95.1,363.6" class="r"/>
<polygon points="47.1,381.9 49.6,375.7 55.8,372.0 63.2,372.0 65.6,378.2 61.9,384.4 55.8,386.9 49.6,386.9" class="r"/>
<polygon points="57.1,381.7 57.9,374.6 58.0,374.6 63.0,377.6 61.6,380.9 58.0,382.2" class="r"/>
<polygon points="54.5,381.9 57.0,374.5 63.2,368.3 70.6,364.6 78.0,364.6 81.7,368.3 79.2,375.7 71.8,380.7 63.2,384.4 57.0,384.4" class="r"/>
<polygon points="70.1,367.4 70.2,367.4 74.8,370.1 76.1,373.6 76.6,375.5 74.7,376.6 70.4,368.3" class="r"/>
<polygon points="61.1,373.7 61.2,373.2 63.6,370.5 69.2,368.8 72.7,371.4 66.4,378.8 63.1,378.3 61.3,374.8" class="r"/>
<polygon points="58.2,379.4 60.7,373.3 65.6,369.6 71.8,367.7 76.7,369.0 76.7,374.5 71.8,378.2 64.4,380.7" class="r"/>
<polygon points="60.7,378.2 63.2,373.3 68.1,370.8 73.0,370.8 74.3,374.5 70.6,377.6 64.4,378.8" class="r"/>
<polygon points="62.1,376.4 64.6,371.5 72.2,371.9 72.3,374.0 69.5,377.1 66.2,378.0 63.5,377.3 63.1,377.2" class="r"/>
<polygon points="64.7,374.7 65.2,374.0 66.9,373.4 68.6,373.8 67.8,377.3 65.1,378.1" class="r"/>
<polygon points="52.0,380.7 54.5,374.5 59.5,372.0 61.9,377.0 60.7,381.9 55.8,384.4" class="r"/>
<polygon points="54.6,376.1 58.9,373.4 60.9,375.0 58.2,380.4 55.8,380.9" class="r"/>
<polygon points="70.0,372.0 71.2,369.0 73.7,367.3 76.1,367.7 77.4,370.8 75.5,373.5 72.4,374.5 70.6,373.9" class="b"/>
<polygon points="71.8,371.4 73.0,369.0 75.3,368.6 76.1,371.0 74.3,373.0" class="b"/>
<polygon points="71.8,371.4 73.0,369.0 75.3,368.6 76.1,371.0 74.3,373.0" class="bf"/>
<polygon points="64.6,375.1 65.4,373.9 66.2,374.5 65.9,376.0 64.9,376.1" class="b"/>
<polygon points="64.6,375.1 65.4,373.9 66.2,374.5 65.9,376.0 64.9,376.1" class="bf"/>
<polygon points="62.7,376.9 68.9,369.7 75.0,371.1 75.1,372.8 72.8,375.8 71.2,377.5 63.8,378.2" class="r"/>
<polygon points="61.7,378.3 61.8,376.5 62.8,373.7 67.7,371.6 72.8,371.9 73.0,376.3" class="r"/>
<polygon points="146.9,365.8 155.8,356.5 163.8,352.9 169.8,342.9 177.8,336.9 193.7,338.5 198.7,346.9 197.7,357.9 192.7,367.8 183.7,381.8 180.7,390.7 164.8,392.7 148.9,390.7 145.9,380.8" class="r"/>
<polygon points="155.8,373.8 159.8,358.9 167.8,350.9 175.8,340.9 187.7,341.9 193.7,344.9 194.7,354.9 190.7,365.8 181.7,373.8 173.8,380.8 161.8,382.8" class="r"/>
<polygon points="152.9,370.8 157.8,361.8 165.8,354.9 175.8,350.9 183.7,352.9 185.7,360.8 179.7,368.8 169.8,374.8 158.8,376.8" class="r"/>
<polygon points="150.8,367.2 151.7,365.7 153.7,362.9 163.6,357.4 172.1,360.9 172.7,365.2 166.4,375.7 165.6,375.3" class="r"/>
<polygon points="163.8,363.1 169.9,357.5 174.9,355.8 178.8,357.7 181.1,358.8 176.3,369.9" class="r"/>
<polygon points="157.5,368.7 157.8,366.6 158.6,361.9 165.6,357.7 177.4,367.6 167.8,372.9" class="r"/>
<polygon points="159.3,375.1 160.9,363.6 169.6,359.6 175.4,364.5 171.8,372.0" class="r"/>
<polygon points="154.8,374.8 158.8,365.8 167.8,357.9 175.8,355.9 180.7,358.9 179.7,366.8 172.8,372.8 162.8,376.8" class="r"/>
<polygon points="162.5,369.0 164.2,364.7 166.0,362.6 172.9,361.3 173.7,361.7 174.2,363.5 172.9,368.3" class="r"/>
<polygon points="161.7,370.1 163.1,367.1 167.6,363.5 172.4,373.1 168.5,375.2 162.8,372.2" class="r"/>
<polygon points="162.3,367.8 171.4,358.5 178.7,367.8 173.9,372.6 168.4,373.8 162.3,368.5" class="r"/>
<polygon points="167.9,360.6 169.4,359.3 177.8,356.3 179.4,356.1 180.1,356.2 176.8,366.0 173.2,367.5" class="r"/>
<polygon points="146.9,374.8 151.9,365.8 158.8,362.8 163.8,367.8 163.8,380.8 155.8,384.8 148.9,383.8" class="r"/>
<polygon points="150.8,374.6 157.4,373.8 157.9,374.1 159.2,375.7 159.2,377.2 157.1,381.2 153.9,382.3" class="r"/>
<polygon points="151.1,372.4 157.3,368.9 160.2,373.7 160.7,375.5 158.1,379.8 157.0,379.4" class="r"/>
<polygon points="159.8,370.8 164.8,362.8 170.8,358.9 176.8,358.9 179.7,362.8 176.8,369.8 169.8,373.8" class="r"/>
<polygon points="159.3,370.6 164.6,362.8 167.7,361.5 171.4,362.6" class="r"/>
<polygon points="167.9,363.4 171.2,360.6 176.9,359.6 174.8,370.1 173.5,371.6 169.3,371.0" class="r"/>
<polygon points="161.3,370.2 163.1,365.8 170.1,362.2 175.2,366.1 175.7,369.7 174.8,370.0" class="r"/>
<polygon points="166.1,365.5 166.5,364.5 174.1,361.8 174.4,363.5 167.7,368.1" class="r"/>
<polygon points="165.8,354.9 173.8,350.9 181.7,350.9 184.7,355.9 181.7,359.9 171.8,358.9" class="r"/>
<polygon points="170.9,355.2 171.0,354.8 172.0,353.3 173.2,352.7 174.1,352.4 178.2,356.9 175.6,357.3" class="r"/>
<polygon points="171.1,353.1 172.2,351.6 184.8,353.3 185.8,354.8 176.9,359.7 171.8,354.6" class="r"/>
<polygon points="168.8,366.8 169.8,361.8 172.8,358.5 176.8,358.9 177.8,363.8 174.8,367.8 170.8,368.8" class="b"/>
<polygon points="169.8,363.5 170.9,361.3 171.9,360.4 176.3,360.5 176.7,364.1 175.7,365.8 171.1,365.9 170.8,365.8" class="b"/>
<polygon points="170.2,365.8 171.8,361.8 175.4,360.5 176.8,363.8 173.8,366.8" class="b"/>
<polygon points="170.2,365.8 171.8,361.8 175.4,360.5 176.8,363.8 173.8,366.8" class="bf"/>
<polygon points="170.8,365.3 171.8,361.6 172.9,361.3 173.7,361.3 174.8,363.0 174.6,364.1" class="b"/>
<polygon points="232.6,355.7 255.3,340.8 262.5,334.8 284.0,338.4 287.0,343.2 290.0,357.5 284.0,369.5 276.8,380.2 264.8,380.2 251.7,375.5 234.9,369.5 232.3,363.5" class="r"/>
<polygon points="224.2,382.6 226.6,376.7 232.6,370.7 240.9,365.9 251.7,364.7 256.5,370.7 252.9,381.4 245.7,386.2 229.0,387.4" class="r"/>
<polygon points="236.1,373.6 244.5,370.5 247.5,372.1 248.0,375.5 245.6,378.4 244.8,379.0 238.4,379.4" class="r"/>
<polygon points="227.8,380.2 231.4,374.3 238.5,369.5 248.1,368.3 255.3,373.1 251.7,381.4 240.9,386.2 230.2,386.2" class="r"/>
<polygon points="232.9,374.8 242.7,368.0 250.3,368.4 252.7,370.1 251.4,378.1 250.5,379.4 244.7,381.1 234.6,380.4" class="r"/>
<polygon points="240.9,364.7 245.7,356.3 252.9,350.3 262.5,345.0 272.0,344.4 279.2,347.9 281.6,357.5 276.8,365.9 268.4,373.1 257.7,377.8 246.9,376.7 242.1,371.9" class="r"/>
<polygon points="245.7,363.5 249.3,356.3 256.5,350.3 264.8,346.7 273.2,346.7 278.0,350.3 278.0,358.7 272.0,365.9 263.7,370.7 252.9,371.9 246.9,369.5" class="r"/>
<polygon points="257.7,357.9 261.5,349.8 263.1,349.5 274.9,350.0 265.7,363.9 258.0,358.7" class="r"/>
<polygon points="243.8,367.9 251.4,356.9 256.1,356.3 266.9,362.1 259.1,370.7 253.8,374.3" class="r"/>
<polygon points="250.5,361.1 254.1,355.1 260.1,351.5 267.2,349.7 273.2,351.5 274.4,357.5 269.6,363.5 262.5,367.1 254.1,368.3" class="r"/>
<polygon points="261.4,362.3 262.0,354.2 272.4,354.8 272.3,356.4 271.0,360.0 268.9,361.4 266.8,362.2" class="r"/>
<polygon points="259.4,359.0 260.5,356.2 261.8,355.8 268.2,355.4 268.4,357.0 260.7,361.2 260.2,360.9" class="r"/>
<polygon points="267.2,351.5 272.0,349.1 276.8,350.3 279.2,356.3 275.6,362.3 270.8,363.5" class="r"/>
<polygon points="270.3,353.8 277.0,351.6 278.4,354.5 277.8,356.0 276.1,358.6 273.2,358.7" class="r"/>
<polygon points="234.9,380.2 240.9,373.1 248.1,371.9 252.9,375.5 250.5,381.4 243.3,385.0 236.1,385.0" class="r"/>
<polygon points="240.3,380.5 241.1,376.1 247.0,372.5 241.8,381.7" class="r"/>
<polygon points="240.9,369.5 243.3,362.3 248.1,358.7 254.1,356.3 260.1,353.9 266.0,355.1 267.2,361.1 264.8,367.1 258.9,371.9 252.9,375.5 246.9,376.7 242.1,374.3" class="b"/>
<polygon points="254.5,361.9 257.1,358.4 259.6,355.7 265.3,363.0 257.5,367.0 255.0,365.2" class="b"/>
<polygon points="245.7,369.5 248.1,363.5 252.9,359.9 258.9,357.5 264.8,358.1 265.4,362.9 261.3,368.3 255.3,371.3 249.3,371.9" class="b"/>
<polygon points="245.7,369.5 248.1,363.5 252.9,359.9 258.9,357.5 264.8,358.1 265.4,362.9 261.3,368.3 255.3,371.3 249.3,371.9" class="bf"/>
<polygon points="257.1,364.6 259.8,357.5 262.7,356.4 266.6,357.2 266.8,360.9 266.6,362.0 263.9,364.0 261.9,365.2" class="b"/>
<polygon points="251.7,368.3 253.5,364.1 257.7,361.1 262.5,360.5 264.2,363.5 261.3,367.7 256.5,370.1" class="b"/>
<polygon points="251.7,368.3 253.5,364.1 257.7,361.1 262.5,360.5 264.2,363.5 261.3,367.7 256.5,370.1" class="bf"/>
<polygon points="254.2,367.6 254.8,366.6 255.6,365.1 259.0,364.5 258.8,364.9 256.5,368.5 255.4,368.9" class="b"/>
<polygon points="255.3,365.9 257.7,362.3 261.3,361.7 263.1,364.1 260.7,367.1 257.1,367.7" class="b"/>
<polygon points="255.3,365.9 257.7,362.3 261.3,361.7 263.1,364.1 260.7,367.1 257.1,367.7" class="bf"/>
<polygon points="257.1,365.2 258.3,363.6 259.3,363.5 258.5,366.9 257.5,366.4 257.3,366.2" class="b"/>
<polygon points="320.9,382.8 324.9,371.8 330.9,362.8 340.8,348.9 353.8,339.9 374.7,341.9 378.7,348.9 377.7,354.9 370.7,362.8 362.7,372.8 351.8,382.8 338.8,388.7 323.9,385.7" class="r"/>
<polygon points="324.9,380.8 330.9,368.8 338.8,360.8 348.8,352.9 358.8,349.9 366.7,349.9 370.7,354.9 367.7,362.8 358.8,371.8 348.8,380.8 334.9,386.7" class="r"/>
<polygon points="330.9,376.8 335.9,365.8 343.8,358.9 352.8,354.9 360.8,354.9 362.7,360.8 358.8,368.8 350.8,375.8 338.8,379.8" class="r"/>
<polygon points="340.9,362.8 345.4,360.1 348.1,359.5 349.0,359.6 348.8,370.5 346.7,372.2" class="r"/>
<polygon points="341.7,364.2 343.7,361.6 345.5,360.0 359.6,362.0 358.2,365.4 351.0,375.2 345.2,376.7" class="r"/>
<polygon points="341.2,369.6 342.8,365.3 345.4,361.2 357.6,366.3 356.2,367.7 343.2,370.7" class="r"/>
<polygon points="344.9,356.7 353.3,352.5 356.0,352.2 363.8,356.2 363.0,360.0 360.5,363.1 357.0,367.0" class="r"/>
<polygon points="333.9,374.8 338.8,365.8 346.8,360.8 354.8,358.9 359.8,361.8 357.8,368.8 350.8,373.8 340.8,376.8" class="r"/>
<polygon points="340.9,371.1 346.8,362.9 350.2,361.8 354.0,363.3 344.3,373.6" class="r"/>
<polygon points="343.5,368.6 360.1,363.2 353.9,372.2 344.7,372.8" class="r"/>
<polygon points="339.3,372.3 342.6,366.5 346.4,363.4 356.4,365.8 347.4,376.4" class="r"/>
<polygon points="341.5,367.6 341.9,366.7 342.6,365.8 347.9,364.8 352.5,366.8 351.0,368.9 343.9,373.8" class="r"/>
<polygon points="335.9,372.8 340.8,364.8 347.8,361.2 353.8,360.8 356.8,364.8 353.8,370.8 345.8,374.4" class="r"/>
<polygon points="343.2,368.8 345.9,363.9 357.2,361.4 358.1,361.5 357.0,367.4 347.7,372.1 344.8,371.0" class="r"/>
<polygon points="339.6,372.6 348.3,370.7 343.4,374.1 342.1,374.2 340.3,373.5" class="r"/>
<polygon points="341.0,370.4 349.2,362.3 351.7,364.3 352.2,365.7 349.7,371.1 345.9,372.6 344.8,372.6" class="r"/>
<polygon points="343.7,363.9 355.7,360.2 358.5,366.7 355.2,370.0 346.1,372.1 343.9,372.2" class="r"/>
<polygon points="358.8,350.9 364.7,349.9 369.7,352.9 369.7,360.8 363.7,364.8 359.8,360.8" class="r"/>
<polygon points="361.1,353.8 367.9,354.2 369.0,357.8 369.0,360.4 366.9,363.0" class="r"/>
<polygon points="361.7,357.2 363.4,353.7 366.1,355.1 366.4,355.3" class="r"/>
<polygon points="343.8,368.8 344.8,364.4 347.8,361.8 351.8,361.8 353.8,364.8 351.8,369.8 347.8,371.8 344.8,371.2" class="b"/>
<polygon points="344.2,369.7 348.5,370.2 348.5,370.4 348.3,371.0 347.6,371.8 346.5,372.1 345.9,372.0" class="b"/>
<polygon points="345.8,368.4 346.8,364.8 349.8,363.2 352.8,364.8 350.8,369.2 347.8,370.4" class="b"/>
<polygon points="345.8,368.4 346.8,364.8 349.8,363.2 352.8,364.8 350.8,369.2 347.8,370.4" class="bf"/>
<polygon points="345.7,365.8 348.1,363.4 351.3,365.6 347.1,369.0 346.4,368.6" class="b"/>
<polygon points="407.6,378.1 415.9,350.6 436.1,347.4 438.9,369.0 432.0,391.3 412.0,393.4" class="r"/>
<polygon points="426.4,348.8 433.4,337.7 461.9,336.3 471.7,342.5 473.8,352.3 472.4,367.6 463.3,378.8 453.6,388.5 442.4,385.7 429.9,383.0 424.3,371.8" class="r"/>
<polygon points="417.3,364.8 422.9,356.5 434.1,349.5 443.8,345.3 455.0,341.1 467.5,343.2 471.7,352.3 468.9,363.4 460.5,374.6 449.4,383.0 436.8,385.7 422.9,383.0 418.7,374.6" class="r"/>
<polygon points="420.1,371.8 425.7,360.7 435.4,352.3 446.6,346.7 457.7,345.3 464.7,349.5 466.1,357.9 461.9,367.6 452.2,376.0 441.0,380.2 428.5,380.2" class="r"/>
<polygon points="424.3,371.8 428.5,363.4 436.8,356.5 446.6,350.9 457.7,349.5 463.3,353.7 463.3,362.1 456.4,370.4 446.6,376.0 434.1,377.4" class="r"/>
<polygon points="433.0,373.4 443.7,356.5 458.6,361.0 457.1,364.9 449.8,371.9 443.2,375.7" class="r"/>
<polygon points="438.5,364.1 443.6,354.3 451.5,350.2 453.3,349.5 458.8,350.5 462.7,356.2" class="r"/>
<polygon points="438.3,360.9 446.9,354.7 448.8,354.2 453.8,357.1 453.4,359.3 443.7,366.8" class="r"/>
<polygon points="428.5,371.8 432.7,364.8 439.6,359.3 448.0,355.1 456.4,354.4 460.5,357.9 459.1,364.8 452.2,371.8 441.0,374.6 432.7,374.6" class="r"/>
<polygon points="436.1,369.9 436.1,366.7 450.7,360.4 451.4,366.4 443.9,370.6" class="r"/>
<polygon points="434.9,367.7 452.3,357.1 453.4,358.1 446.5,373.2 440.2,374.1 436.6,372.8 435.5,370.2" class="r"/>
<polygon points="432.7,370.4 436.8,364.8 443.8,360.7 450.8,357.9 457.1,358.6 457.7,363.4 452.2,369.0 443.8,371.8 436.1,372.5" class="r"/>
<polygon points="437.2,369.3 438.1,366.0 440.6,364.0 444.1,363.0 444.9,363.2 447.7,364.3 447.7,365.9 441.7,369.9" class="r"/>
<polygon points="442.2,365.8 442.9,362.7 448.1,360.1 452.9,358.9 455.1,359.6 456.1,363.2 454.4,365.9" class="r"/>
<polygon points="437.3,369.8 438.3,367.6 442.6,363.4 447.4,362.5 448.3,363.3 438.6,370.6" class="r"/>
<polygon points="450.1,343.9 457.7,341.1 467.5,342.5 471.7,346.7 470.3,357.9 464.7,364.8 457.7,363.4 452.2,353.7" class="r"/>
<polygon points="454.3,352.6 457.5,344.4 462.9,343.4 468.2,348.4 466.8,355.2 459.5,356.8" class="r"/>
<polygon points="441.0,364.8 441.7,360.7 444.5,357.2 448.7,356.5 452.2,357.9 452.9,361.4 450.1,364.1 446.6,366.2 443.1,367.6" class="b"/>
<polygon points="441.0,364.8 441.7,360.7 444.5,357.2 448.7,356.5 452.2,357.9 452.9,361.4 450.1,364.1 446.6,366.2 443.1,367.6" class="bf"/>
<polygon points="446.4,366.2 447.1,357.4 448.7,357.7 450.5,358.1 451.2,359.4 451.4,360.5 448.7,365.7" class="b"/>
<polygon points="440.3,365.5 441.7,362.8 443.8,362.8 444.5,366.2 442.4,367.6" class="b"/>
<polygon points="440.3,365.5 441.7,362.8 443.8,362.8 444.5,366.2 442.4,367.6" class="bf"/>
<polygon points="440.9,365.8 441.1,364.6 441.6,363.6 442.9,363.2 444.5,364.3 444.7,364.8 442.6,367.3 441.9,367.2 441.1,366.6" class="b"/>
<polygon points="434.4,365.2 436.3,362.4 450.7,356.0 456.2,361.1 455.7,363.5 445.5,372.3 435.1,371.4" class="r"/>
<polygon points="504.3,370.8 518.5,353.5 527.1,349.8 537.0,339.9 550.6,339.3 561.7,341.2 566.1,351.7 562.4,362.2 556.8,369.6 549.4,382.0 544.4,390.6 529.6,391.9 514.8,391.9 506.1,384.4" class="r"/>
<polygon points="507.4,377.0 512.3,369.6 521.0,362.2 529.6,354.8 539.5,348.6 549.4,346.1 556.8,348.6 556.8,358.5 550.6,367.1 542.0,374.6 532.1,380.7 519.7,383.2 511.1,383.2" class="r"/>
<polygon points="513.5,376.5 546.0,351.3 553.6,354.0 555.3,355.4 548.2,369.1 532.3,380.2" class="r"/>
<polygon points="533.5,374.6 536.0,355.4 546.5,350.5 554.1,352.7 554.7,354.5 553.2,359.7 548.5,367.7 541.5,372.1" class="r"/>
<polygon points="519.8,369.1 520.6,366.6 530.0,351.9 546.1,345.1 551.2,368.2 531.5,375.5" class="r"/>
<polygon points="509.8,379.5 514.8,372.1 523.4,364.7 532.1,358.5 542.0,353.5 550.6,352.3 554.3,356.0 551.9,363.4 544.4,370.8 534.6,377.0 523.4,380.7 513.5,382.0" class="r"/>
<polygon points="526.9,362.9 538.9,360.1 543.6,366.5 534.5,375.5 530.3,377.9" class="r"/>
<polygon points="521.9,372.4 523.2,369.4 524.7,367.6 531.3,362.2 536.1,360.2 544.7,364.9 541.8,368.1 537.6,371.1" class="r"/>
<polygon points="513.5,378.3 518.5,372.1 525.9,366.5 534.6,361.6 543.2,358.5 549.4,358.5 550.6,363.4 544.4,369.6 535.8,374.6 525.9,378.3 517.2,379.5" class="r"/>
<polygon points="519.9,374.4 520.8,371.8 525.9,367.3 537.7,366.4 532.5,375.2 527.4,377.3 524.1,378.2" class="r"/>
<polygon points="521.5,374.1 524.2,369.2 527.4,376.0 524.0,376.4 523.1,375.7" class="r"/>
<polygon points="525.0,376.6 526.5,368.7 545.6,362.0 546.8,362.2 545.0,367.2 536.8,374.3" class="r"/>
<polygon points="517.2,375.8 522.2,370.2 529.6,365.9 537.0,363.4 544.4,362.8 545.7,367.1 540.7,372.1 532.1,375.8 523.4,377.0" class="r"/>
<polygon points="528.2,368.7 535.2,366.1 538.8,366.8 539.8,368.3 538.2,371.6 534.0,374.4" class="r"/>
<polygon points="526.4,369.2 530.8,365.8 535.7,363.3 541.1,361.2 546.4,362.6 547.2,366.5 526.5,375.6" class="r"/>
<polygon points="524.6,374.1 526.3,368.4 528.8,366.9 539.5,364.0 542.5,366.9 541.5,368.4 527.5,375.2" class="r"/>
<polygon points="535.8,344.9 546.9,341.2 556.8,342.4 561.7,348.6 560.5,359.7 554.3,365.9 546.9,364.7 542.0,356.0" class="r"/>
<polygon points="545.4,355.9 547.7,354.2 561.9,362.8 557.6,368.0 548.5,366.2" class="r"/>
<polygon points="544.4,349.8 549.4,348.0 554.3,349.8 555.6,357.2 551.9,363.4 546.9,362.2" class="r"/>
<polygon points="546.4,354.2 549.6,351.1 553.8,356.7 548.6,359.7 548.2,359.4 547.8,358.5" class="r"/>
<polygon points="524.9,368.9 525.8,367.4 533.6,363.3 537.6,363.0 538.9,365.1 539.0,365.6 537.4,369.6" class="r"/>
<polygon points="526.4,365.5 540.6,360.2 541.7,364.1 540.5,365.0 534.3,369.7 529.1,370.3 527.5,369.8" class="r"/>
<polyline points="504.3,393.1 499.3,384.4 499.9,375.8 506.1,372.1 512.3,370.8" class="r"/>
<polygon points="529.0,366.5 530.2,363.4 532.7,361.6 535.8,361.0 537.6,362.8 537.0,365.9 534.6,368.4 531.5,369.0" class="b"/>
<polygon points="529.0,366.5 530.2,363.4 532.7,361.6 535.8,361.0 537.6,362.8 537.0,365.9 534.6,368.4 531.5,369.0" class="bf"/>
<polygon points="530.8,365.9 532.1,363.4 534.6,362.4 536.4,364.0 535.2,366.9 532.7,367.4" class="b"/>
<polygon points="530.8,365.9 532.1,363.4 534.6,362.4 536.4,364.0 535.2,366.9 532.7,367.4" class="bf"/>
<polygon points="526.4,376.3 541.8,361.3 545.4,363.6 531.4,378.1 527.3,376.7" class="r"/>
<polygon points="522.2,372.1 525.9,365.9 532.1,361.6 538.3,360.3 542.0,362.8 539.5,367.8 533.3,371.5 527.1,372.7" class="r"/>
<polygon points="529.9,364.8 533.5,362.7 534.4,362.6 539.7,363.7 539.9,363.9 532.3,372.3 530.2,372.4" class="r"/>
<polygon points="598.4,372.0 604.3,368.5 609.1,360.1 615.1,346.9 625.8,347.5 635.4,342.2 648.5,343.4 652.7,348.1 652.1,355.3 646.2,363.7 640.2,370.8 633.0,380.4 625.8,386.4 607.9,387.6 599.6,382.8" class="r"/>
<polygon points="603.1,373.2 607.9,364.9 615.1,357.7 623.5,351.7 631.8,348.1 641.4,346.9 647.3,350.5 646.2,358.9 640.2,366.1 633.0,373.2 624.6,380.4 613.9,382.8 605.5,380.4" class="r"/>
<polygon points="605.5,374.4 610.3,366.1 617.5,358.9 625.8,354.1 634.2,351.7 641.4,352.9 642.6,358.9 637.8,366.1 630.6,373.2 622.3,378.0 612.7,379.2" class="r"/>
<polygon points="608.7,372.4 608.9,369.0 619.5,357.1 632.7,355.9 633.4,367.9 615.1,380.2" class="r"/>
<polygon points="607.4,380.2 619.2,361.7 624.4,358.7 625.8,358.9 634.6,361.1 620.0,382.3" class="r"/>
<polygon points="616.0,367.9 616.4,366.6 633.2,352.9 634.4,353.5 637.1,357.4 635.8,365.9" class="r"/>
<polygon points="609.1,373.2 613.9,366.1 619.9,360.7 627.0,357.1 634.2,355.9 639.0,357.7 637.8,363.7 631.8,369.6 624.6,374.4 616.3,376.2" class="r"/>
<polygon points="618.9,366.8 620.9,361.4 635.7,357.9 636.1,359.7 630.9,367.4 625.8,369.2" class="r"/>
<polygon points="622.1,367.1 622.9,361.0 627.8,357.5 632.9,357.1 630.4,364.7" class="r"/>
<polygon points="611.5,373.2 615.1,367.3 621.1,362.5 628.2,360.1 634.2,360.1 635.4,364.9 630.6,369.6 623.5,373.2 616.3,374.4" class="r"/>
<polygon points="617.6,365.7 621.2,363.8 624.9,362.1 630.5,363.9 627.6,369.5 627.0,370.2" class="r"/>
<polygon points="618.0,367.5 618.8,365.3 624.9,362.4 631.9,363.0 632.1,363.6 631.9,367.0 629.7,369.8 627.0,371.6" class="r"/>
<polygon points="599.6,373.2 605.5,369.6 610.3,370.8 611.5,378.0 607.9,384.0 601.9,382.8" class="r"/>
<polygon points="602.3,376.1 605.0,371.1 607.9,371.2 609.1,372.6 610.4,376.2 607.9,379.5" class="r"/>
<polygon points="631.8,346.9 640.2,344.6 647.3,345.8 649.7,350.5 646.2,357.7 641.4,360.1 635.4,356.5" class="r"/>
<polygon points="636.8,351.2 641.1,347.6 642.3,347.4 647.1,348.9 648.1,351.4 645.3,357.2 637.7,355.0 636.9,352.0" class="r"/>
<polygon points="613.9,369.6 615.1,364.9 618.7,361.9 623.5,360.7 625.8,363.7 624.6,369.6 621.1,373.2 616.3,373.8" class="b"/>
<polygon points="615.0,369.7 617.6,365.1 622.8,366.2 623.6,367.7 623.4,369.8 622.9,371.3 621.0,372.4 615.6,371.1" class="b"/>
<polygon points="622.3,364.9 624.6,360.7 628.2,358.9 631.2,360.1 631.2,364.9 628.2,367.3 624.6,367.3" class="b"/>
<polygon points="623.9,364.1 625.4,362.0 628.0,361.0 628.2,364.5 626.1,365.6 625.2,365.6 624.4,365.4" class="b"/>
<polygon points="615.7,369.6 617.5,365.5 621.1,363.7 623.5,365.5 622.3,370.2 618.7,372.0" class="b"/>
<polygon points="615.7,369.6 617.5,365.5 621.1,363.7 623.5,365.5 622.3,370.2 618.7,372.0" class="bf"/>
<polygon points="618.9,366.2 620.7,363.1 622.3,362.8 623.8,363.8 624.6,364.6 622.9,367.9 619.5,367.9" class="b"/>
<polygon points="624.6,364.3 626.4,361.3 629.4,360.7 630.4,363.1 628.5,365.8 625.8,365.8" class="b"/>
<polygon points="624.6,364.3 626.4,361.3 629.4,360.7 630.4,363.1 628.5,365.8 625.8,365.8" class="bf"/>
<polygon points="624.5,363.9 626.5,362.3 628.0,362.8 628.3,363.0 628.5,364.1 628.4,365.1 625.6,366.2" class="b"/>
<polygon points="612.0,369.6 618.1,360.1 622.5,357.1 631.1,361.6 628.9,367.7 624.2,371.4 615.6,373.5" class="r"/>
<polygon points="619.8,369.0 623.9,363.4 626.8,361.0 635.5,361.9 635.2,363.3 632.9,367.0 627.0,370.6" class="r"/>
<polygon points="681.9,380.8 684.9,371.8 692.8,360.8 700.8,352.9 708.8,346.9 718.7,346.9 730.7,350.9 732.7,362.8 726.7,372.8 716.7,380.8 710.8,387.1 696.8,387.7 684.9,388.7" class="r"/>
<polygon points="684.9,378.8 689.8,367.8 697.8,358.9 706.8,352.9 716.7,350.9 727.7,352.9 729.7,360.8 723.7,370.8 712.7,378.8 698.8,383.8 688.8,384.8" class="r"/>
<polygon points="688.8,377.8 693.8,367.8 701.8,360.8 710.8,355.9 718.7,354.9 724.7,357.9 724.7,365.8 716.7,373.8 704.8,379.8 693.8,381.8" class="r"/>
<polygon points="700.4,368.4 706.7,360.0 710.7,358.0 716.9,355.3 706.4,373.4 705.6,373.2" class="r"/>
<polygon points="694.0,374.0 698.7,364.8 714.2,368.2 711.9,374.6 708.6,376.4 697.4,379.6" class="r"/>
<polygon points="699.5,369.3 703.7,363.9 708.5,361.9 711.6,360.8 713.0,360.5 714.3,361.6 701.0,374.1" class="r"/>
<polygon points="700.7,374.7 706.6,358.3 715.6,356.4 721.7,364.0 716.3,369.3" class="r"/>
<polygon points="701.3,375.5 707.7,361.8 713.4,358.3 724.5,362.2 721.2,369.6 711.7,376.8" class="r"/>
<polygon points="696.8,371.4 700.0,363.9 705.6,359.6 711.6,359.0 716.6,362.2 706.3,373.7 701.7,375.3" class="r"/>
<polygon points="704.7,366.7 705.2,364.8 718.0,361.7 718.4,362.1 708.4,371.5 707.1,371.3" class="r"/>
<polygon points="706.2,372.1 712.2,360.8 716.9,360.7 715.9,370.1 712.4,372.1" class="r"/>
<polygon points="691.8,375.8 696.8,367.8 703.8,362.8 711.7,359.9 718.7,359.9 720.7,364.8 715.7,371.8 705.8,376.8 696.8,378.4" class="r"/>
<polygon points="694.4,376.4 695.5,372.4 696.0,371.1 697.0,370.4 702.2,368.5" class="r"/>
<polygon points="703.2,370.2 706.9,362.8 710.6,361.4 711.4,361.8 714.5,363.7 711.6,369.2 706.1,370.8" class="r"/>
<polygon points="695.4,370.6 696.5,367.4 701.9,364.4 712.2,368.3 711.4,371.0 701.0,377.1 696.9,375.1" class="r"/>
<polygon points="700.2,370.9 702.1,367.8 712.2,367.5 708.1,371.8 707.0,372.1 704.1,372.7" class="r"/>
<polygon points="699.8,373.1 704.2,365.5 713.9,365.3 713.7,368.5 708.4,373.8 707.1,374.8" class="r"/>
<polygon points="695.6,368.7 700.6,362.7 706.5,359.5 712.4,360.3 706.8,374.9 698.7,374.9" class="r"/>
<polygon points="701.8,369.4 709.8,362.8 712.3,363.1 717.1,365.9 716.4,367.2 708.3,375.9 707.4,376.0 704.5,376.4" class="r"/>
<polygon points="700.7,370.8 704.9,363.4 714.5,359.5 718.1,367.0 708.0,373.6 704.0,373.4" class="r"/>
<polygon points="694.8,374.8 699.8,367.8 706.8,363.8 713.7,362.8 717.7,365.8 713.7,371.8 704.8,375.2" class="r"/>
<polygon points="702.5,367.2 704.4,366.8 709.5,369.4 709.2,370.3 706.2,372.9 705.4,373.0 703.7,373.0" class="r"/>
<polygon points="700.5,371.1 702.3,366.6 712.6,365.8 713.1,369.7 712.3,372.3 700.6,371.4" class="r"/>
<polygon points="700.6,370.0 705.4,366.7 709.0,368.4 708.9,369.8 704.8,373.2 701.7,372.7" class="r"/>
<polygon points="701.9,365.9 714.5,366.5 714.5,368.6 713.8,369.6 709.9,373.6" class="r"/>
<polygon points="700.2,369.7 702.7,366.5 706.8,364.9 711.4,368.0 702.6,373.0 701.1,372.4" class="r"/>
<polygon points="699.8,369.9 700.8,369.1 703.9,367.8 708.1,367.0 709.9,370.4" class="r"/>
<polygon points="703.7,364.2 706.6,363.2 711.3,362.0 709.4,370.4 705.5,371.8" class="r"/>
<polygon points="702.7,367.0 705.3,364.2 707.7,363.9 711.3,364.1 713.6,366.1 713.2,367.8 710.6,371.5 706.0,373.2" class="r"/>
<polygon points="682.9,382.8 683.9,376.8 689.8,373.8 694.8,377.8 692.8,384.8 684.9,386.7" class="r"/>
<polygon points="684.9,382.9 685.0,380.2 687.8,377.0 689.2,377.2 692.7,378.9 686.0,384.6" class="r"/>
<polygon points="684.6,384.4 690.5,377.0 693.7,380.4 692.4,382.6 688.0,385.8 686.7,385.5" class="r"/>
<polyline points="719.7,346.9 734.7,337.3 746.6,340.9 748.6,366.8" class="r"/>
<polygon points="696.8,376.8 697.8,371.8 701.8,367.8 708.8,363.8 713.7,363.8 715.7,367.8 711.7,371.8 704.8,375.2 699.8,378.8" class="b"/>
<polygon points="699.1,373.3 700.0,368.8 701.6,366.6 710.3,363.7 711.2,364.2 710.9,371.6 700.5,375.0" class="b"/>
<polygon points="699.8,374.8 702.8,369.8 708.8,365.8 713.7,365.8 712.7,370.8 706.8,373.8 701.8,375.2" class="b"/>
<polygon points="699.8,374.8 702.8,369.8 708.8,365.8 713.7,365.8 712.7,370.8 706.8,373.8 701.8,375.2" class="bf"/>
<polygon points="703.5,371.0 706.5,368.3 711.0,368.6 711.4,369.1 707.7,373.2 704.0,374.0" class="b"/>
<polygon points="702.8,372.8 705.8,368.4 710.8,366.8 712.7,369.8 708.8,372.8 704.8,373.8" class="b"/>
<polygon points="702.8,372.8 705.8,368.4 710.8,366.8 712.7,369.8 708.8,372.8 704.8,373.8" class="bf"/>
<polygon points="703.5,371.4 703.8,370.2 708.5,368.2 707.6,372.7 707.1,372.9 704.7,373.5" class="b"/>
<polygon points="78.0,454.8 89.1,443.1 103.3,446.2 107.0,462.8 102.7,469.6 95.3,476.4 87.9,475.8 78.0,468.4" class="r"/>
<polygon points="40.9,489.4 44.6,470.9 58.2,459.8 73.0,458.5 80.4,460.4 85.4,469.6 84.1,477.0 75.5,485.7 70.6,493.1 57.0,496.8 44.6,498.0" class="r"/>
<polygon points="43.4,493.1 47.1,480.7 54.5,469.6 64.4,462.8 75.5,460.4 82.9,464.7 82.9,474.6 75.5,483.2 65.6,491.9 54.5,495.6" class="r"/>
<polygon points="47.1,491.9 49.6,482.0 55.8,473.3 65.6,465.9 75.5,464.7 80.4,468.4 79.2,477.0 71.8,484.4 61.9,490.6 53.3,493.1" class="r"/>
<polygon points="50.4,479.0 50.9,477.2 59.5,471.5 60.7,471.5 66.4,472.7 66.0,474.8 64.4,481.5" class="r"/>
<polygon points="60.5,474.0 62.1,471.6 64.6,469.9 67.2,469.6 73.9,475.2 61.9,482.6" class="r"/>
<polygon points="50.8,489.4 53.3,480.7 59.5,474.6 68.1,469.6 76.7,468.4 79.2,473.3 75.5,479.5 68.1,485.7 59.5,489.4" class="r"/>
<polygon points="56.5,483.1 59.7,478.6 68.1,482.4 64.8,485.5 61.2,485.9 58.9,486.0" class="r"/>
<polygon points="61.5,478.0 67.1,472.8 70.0,472.2 72.6,477.1 70.8,479.1 64.8,481.8 63.4,481.9" class="r"/>
<polygon points="82.9,464.7 87.9,459.1 90.3,464.7 89.1,472.1 85.4,473.3" class="r"/>
<polygon points="83.5,468.6 84.0,464.8 89.0,465.0 89.3,465.5 88.9,468.8 85.2,471.5 84.6,470.9" class="r"/>
<polygon points="54.5,486.9 57.0,479.5 63.2,475.2 70.6,473.3 75.5,475.8 73.0,482.0 65.6,486.9 59.5,488.8" class="r"/>
<polygon points="53.3,483.0 62.1,474.4 63.2,474.4 67.5,481.6 66.6,483.9 61.0,486.2 58.0,487.4 55.7,487.2" class="r"/>
<polygon points="58.2,462.2 65.6,458.5 73.0,459.1 76.7,464.7 73.0,469.6 65.6,470.9 59.5,468.4" class="r"/>
<polygon points="63.2,466.2 65.4,464.1 72.5,467.2 65.1,468.6 64.0,468.2 63.5,467.9" class="r"/>
<polygon points="47.1,486.9 49.6,478.3 55.8,475.8 60.7,479.5 59.5,488.1 53.3,491.9" class="r"/>
<polygon points="52.9,487.2 53.4,481.1 56.1,481.3 57.1,482.5 56.4,486.8 55.6,487.2" class="r"/>
<polyline points="79.2,457.3 89.1,453.0 95.3,456.0 96.5,467.2" class="r"/>
<polygon points="72.4,472.3 73.0,471.1 74.5,471.5 74.3,473.1 73.0,473.3" class="b"/>
<polygon points="166.9,459.5 175.6,453.4 184.3,455.2 187.5,463.2 184.3,468.2 180.0,473.3 174.1,472.6 168.3,465.3" class="r"/>
<polygon points="148.7,478.4 150.2,472.6 156.7,467.5 162.5,463.2 169.8,461.7 175.6,463.9 176.3,471.2 171.2,475.5 165.4,484.2 162.5,487.9 150.9,487.1 148.7,482.8" class="r"/>
<polygon points="150.2,481.3 152.3,474.1 158.2,469.0 165.4,464.6 172.0,463.9 174.1,468.2 172.0,474.1 165.4,479.9 156.7,484.2" class="r"/>
<polygon points="152.3,479.9 155.2,473.3 161.1,469.0 166.9,466.8 172.0,467.5 172.0,472.6 166.9,477.0 159.6,481.3" class="r"/>
<polygon points="157.9,473.2 163.0,467.1 172.4,466.6 173.0,469.6 171.6,472.0 158.3,473.9" class="r"/>
<polygon points="158.6,475.4 163.7,470.2 165.6,470.0 166.9,471.0 158.8,475.6" class="r"/>
<polygon points="160.2,474.4 163.4,468.4 166.4,467.6 172.3,468.3 170.3,473.5 168.7,474.5 164.4,477.1" class="r"/>
<polygon points="155.3,481.9 160.0,469.9 162.6,468.5 166.0,470.4 167.2,473.2 160.4,480.6 156.5,481.8" class="r"/>
<polygon points="169.8,461.0 175.6,458.8 180.0,460.2 180.7,468.2 177.0,472.6 172.0,471.2" class="r"/>
<polygon points="172.8,465.5 174.4,463.0 175.8,463.1 176.1,463.2 178.1,465.2 178.3,468.0 177.7,468.7 175.9,470.1 173.4,467.4" class="r"/>
<polygon points="173.5,469.3 176.7,462.4 180.6,466.1 179.0,471.1 178.2,471.4 175.5,471.6" class="r"/>
<polygon points="153.8,478.4 157.4,472.6 162.5,469.7 168.3,468.2 170.5,471.9 166.1,476.2 159.6,479.1" class="r"/>
<polygon points="159.7,474.5 159.8,474.1 160.1,473.4 161.0,472.8 165.1,474.0 165.2,474.3 162.2,475.9" class="r"/>
<polygon points="157.4,475.1 158.0,474.2 158.6,473.8 162.0,472.0 165.7,474.0 165.2,475.2 162.9,477.7 159.4,478.8" class="r"/>
<polyline points="140.4,495.9 136.1,487.9 139.3,480.6 148.0,478.4" class="r"/>
<polygon points="165.4,471.2 166.1,469.0 168.0,468.2 169.8,469.7 169.1,471.9 166.9,472.6" class="b"/>
<polygon points="166.3,469.4 169.0,469.8 168.7,471.2 167.9,472.1 167.4,471.9" class="b"/>
<polygon points="161.8,473.3 162.5,471.9 164.0,471.4 164.3,473.3 162.8,474.1" class="b"/>
<polygon points="161.8,473.3 162.5,471.9 164.0,471.4 164.3,473.3 162.8,474.1" class="bf"/>
<polygon points="162.8,472.6 163.1,471.9 163.9,472.0 164.0,472.5 163.7,472.9 162.8,473.0" class="b"/>
<polygon points="157.6,472.9 158.7,470.6 164.2,466.9 162.8,477.3 158.6,475.8" class="r"/>
<polygon points="159.0,470.7 160.7,469.1 162.9,468.1 163.9,467.6 164.7,468.3 159.1,470.9" class="r"/>
<polygon points="226.6,482.8 231.7,475.5 239.0,468.2 246.2,461.7 255.0,458.1 265.9,446.4 282.6,449.3 286.2,463.9 281.1,472.6 273.9,479.9 266.6,478.4 262.2,485.7 253.5,494.4 246.2,500.2 231.7,497.3 227.3,488.6" class="r"/>
<polygon points="227.3,490.0 230.3,479.9 237.5,472.6 246.2,465.3 255.0,460.2 265.1,457.3 273.9,458.1 276.8,465.3 272.4,472.6 265.1,479.9 256.4,487.1 246.2,493.0 234.6,494.4" class="r"/>
<polygon points="233.2,488.6 236.1,478.4 243.3,471.2 252.1,465.3 260.8,462.4 269.5,462.4 271.7,468.2 266.6,475.5 257.9,482.8 247.7,488.6 239.0,490.0" class="r"/>
<polygon points="247.3,483.5 248.4,474.2 252.5,477.1 252.3,478.8" class="r"/>
<polygon points="239.4,486.8 239.7,485.2 259.1,470.6 254.5,483.3 253.9,484.7 252.2,485.5 242.4,487.6" class="r"/>
<polygon points="244.4,472.6 266.9,474.5 262.9,478.9 259.3,481.0 245.2,484.1" class="r"/>
<polygon points="247.4,478.8 258.7,467.9 264.1,469.5 263.9,470.6 250.9,482.5 248.2,481.2 247.7,479.6" class="r"/>
<polygon points="237.5,487.1 240.4,478.4 247.0,472.6 255.0,468.2 263.0,466.1 268.0,468.2 266.6,475.5 259.3,481.3 250.6,485.7 241.9,487.1" class="r"/>
<polygon points="243.7,480.9 252.9,472.8 255.1,472.1 259.2,473.5 258.2,478.1 248.8,483.5" class="r"/>
<polygon points="248.7,482.7 249.9,476.1 258.0,472.1 258.5,472.4 260.1,474.8 250.9,483.0" class="r"/>
<polygon points="243.8,478.9 257.5,468.0 262.2,469.1 264.3,472.0 262.2,476.1 255.4,481.4 252.8,482.8" class="r"/>
<polygon points="245.9,481.7 246.2,476.6 254.3,471.8 254.4,472.6 254.1,479.2 248.5,482.0 246.3,482.0" class="r"/>
<polygon points="256.4,459.5 266.6,450.8 278.2,450.8 282.6,458.1 279.7,468.2 272.4,475.5 265.1,475.5 259.3,468.2" class="r"/>
<polygon points="262.6,471.0 263.6,454.6 271.5,454.1 273.1,454.6 277.8,456.3 279.0,465.2 274.9,470.6 265.2,472.1" class="r"/>
<polygon points="263.3,458.9 264.6,458.0 267.5,455.9 271.9,457.7 271.2,468.5 270.0,468.7" class="r"/>
<polygon points="241.9,484.2 244.8,477.0 250.6,472.6 257.9,470.4 263.0,471.9 261.5,477.7 255.0,482.1 247.0,484.2" class="r"/>
<polygon points="239.5,484.3 240.9,478.3 248.2,474.8 254.6,481.1 242.5,486.8" class="r"/>
<polygon points="250.9,482.2 251.7,473.4 253.2,472.7 258.5,471.5 260.9,473.2 254.1,481.1" class="r"/>
<polygon points="247.7,480.4 248.4,478.0 254.8,479.5 252.4,481.0 247.9,481.6" class="r"/>
<polygon points="248.0,482.2 252.3,473.7 256.0,473.6 257.2,476.1 252.7,482.0 250.3,482.5" class="r"/>
<polygon points="248.4,475.5 249.9,470.4 254.2,466.1 259.3,463.9 264.4,464.6 265.9,469.0 263.0,474.1 257.9,477.7 252.1,479.1 249.2,478.4" class="b"/>
<polygon points="253.5,469.6 256.4,463.8 264.1,461.6 266.2,461.8 255.6,470.7" class="b"/>
<polygon points="250.6,475.5 252.1,471.2 256.4,467.5 261.5,466.1 264.4,468.2 263.0,472.6 257.9,476.2 252.8,477.3" class="b"/>
<polygon points="250.6,475.5 252.1,471.2 256.4,467.5 261.5,466.1 264.4,468.2 263.0,472.6 257.9,476.2 252.8,477.3" class="bf"/>
<polygon points="257.6,471.2 257.7,468.9 259.9,467.0 263.9,468.0 263.7,468.7 258.9,471.7" class="b"/>
<polygon points="253.5,474.1 255.0,470.4 258.6,468.2 262.2,468.2 263.0,471.2 259.3,474.8 255.7,475.5" class="b"/>
<polygon points="253.5,474.1 255.0,470.4 258.6,468.2 262.2,468.2 263.0,471.2 259.3,474.8 255.7,475.5" class="bf"/>
<polygon points="255.3,472.9 257.3,469.8 257.9,469.5 261.4,470.4 261.1,471.9 258.3,474.4 257.3,474.6" class="b"/>
<polygon points="315.7,484.2 325.2,469.7 336.8,452.3 347.0,447.2 360.0,441.4 377.5,445.7 381.8,461.0 373.1,472.6 363.0,479.9 357.1,487.1 347.0,495.9 335.3,500.2 322.3,501.7 320.8,495.9" class="r"/>
<polygon points="320.8,487.1 323.7,477.0 332.4,468.2 342.6,459.5 352.8,451.5 365.9,450.1 372.4,454.4 374.6,462.4 370.2,472.6 360.0,478.4 351.3,485.7 339.7,491.5 328.1,493.0" class="r"/>
<polygon points="325.2,487.1 328.1,477.0 335.3,471.2 342.6,465.3 352.8,459.5 361.5,456.6 368.8,458.1 370.2,465.3 364.4,472.6 355.7,478.4 345.5,485.7 333.9,488.6" class="r"/>
<polygon points="334.1,475.1 338.7,470.3 348.3,465.7 352.9,465.6 356.1,474.4 353.9,477.1 345.5,482.2 336.8,484.5" class="r"/>
<polygon points="320.7,479.9 326.0,472.6 328.7,471.6 357.5,468.8 356.4,473.8 322.3,485.0" class="r"/>
<polygon points="339.9,478.2 364.6,468.4 363.5,471.7 360.4,474.6 346.5,482.4 343.3,482.5 341.2,480.5" class="r"/>
<polygon points="336.8,477.8 339.5,471.8 352.8,463.8 357.2,469.2 353.9,474.1 345.0,478.7" class="r"/>
<polygon points="329.5,485.7 332.4,477.0 339.0,471.2 347.0,466.8 355.7,463.2 362.2,463.9 362.2,469.7 357.1,475.5 348.4,481.3 338.2,485.0" class="r"/>
<polygon points="338.4,477.6 340.2,474.4 357.7,473.6 348.3,478.7 342.8,479.1" class="r"/>
<polygon points="336.5,482.7 338.2,472.9 354.6,474.2 341.8,483.6 339.7,484.1 337.9,484.4" class="r"/>
<polygon points="342.8,475.3 342.9,474.7 343.0,473.8 351.4,465.2 355.9,465.1 359.2,466.6 360.7,467.8 343.7,476.2" class="r"/>
<polygon points="322.3,477.0 326.6,474.1 332.4,474.1 335.3,482.8 331.0,490.0 323.7,490.0" class="r"/>
<polygon points="325.4,480.0 326.4,478.2 328.9,477.7 329.7,478.0 331.1,479.2 331.8,483.1 330.1,485.1 328.5,485.9 327.7,485.3" class="r"/>
<polygon points="327.3,478.8 330.1,478.4 331.4,478.9 332.1,481.1 331.0,483.6" class="r"/>
<polygon points="333.9,481.3 336.8,472.6 342.6,467.5 349.9,463.9 357.1,463.9 360.0,468.2 357.1,473.3 349.9,478.4 341.2,481.3" class="r"/>
<polygon points="341.9,474.4 346.0,470.2 352.3,472.8 350.9,474.5 349.0,475.9 344.6,477.1 344.4,476.9" class="r"/>
<polygon points="343.6,480.8 344.1,471.9 346.5,470.3 351.6,470.2 352.1,470.3 353.3,473.0" class="r"/>
<polygon points="343.9,473.7 345.4,470.2 347.5,468.3 354.0,466.8 355.6,468.0 346.9,474.8" class="r"/>
<polygon points="343.5,471.1 350.4,467.1 352.7,467.0 353.4,470.8 351.9,472.7 349.8,474.5" class="r"/>
<polygon points="339.7,475.5 341.2,469.0 346.2,463.9 352.1,461.7 357.9,462.4 359.3,467.5 356.4,474.1 350.6,478.4 344.1,479.9 340.4,479.1" class="b"/>
<polygon points="342.4,475.3 342.8,468.5 343.2,468.3 348.2,465.6 349.3,465.9 345.2,476.4 342.9,475.7" class="b"/>
<polygon points="342.6,475.5 344.1,470.4 348.4,466.1 354.2,464.6 357.1,467.5 355.7,472.6 350.6,476.2 345.5,477.7" class="b"/>
<polygon points="342.6,475.5 344.1,470.4 348.4,466.1 354.2,464.6 357.1,467.5 355.7,472.6 350.6,476.2 345.5,477.7" class="bf"/>
<polygon points="349.4,470.1 349.5,469.9 353.3,466.2 355.9,466.1 354.9,470.7 352.4,471.8 349.5,471.1" class="b"/>
<polygon points="345.5,474.1 347.0,469.7 350.6,466.8 355.0,467.1 355.7,470.4 352.8,474.1 348.4,475.5" class="b"/>
<polygon points="345.5,474.1 347.0,469.7 350.6,466.8 355.0,467.1 355.7,470.4 352.8,474.1 348.4,475.5" class="bf"/>
<polygon points="348.4,474.4 348.9,469.6 354.3,469.1 353.3,473.8 352.8,473.8" class="b"/>
<polygon points="347.7,472.6 349.1,469.0 352.1,468.0 354.2,469.7 352.8,472.6 349.9,473.3" class="b"/>
<polygon points="347.7,472.6 349.1,469.0 352.1,468.0 354.2,469.7 352.8,472.6 349.9,473.3" class="bf"/>
<polygon points="349.0,472.1 350.0,469.7 351.9,470.0 352.4,470.8 352.3,471.4" class="b"/>
<polygon points="338.5,477.7 339.9,476.1 349.7,469.1 350.5,474.8 345.5,478.5 343.8,479.1 340.1,479.2" class="r"/>
<polygon points="413.3,478.4 419.1,471.2 426.3,459.5 433.6,454.4 444.5,447.9 460.5,451.5 464.9,461.0 461.9,469.0 455.4,477.0 449.6,484.2 443.8,487.1 439.4,493.7 430.7,495.1 419.1,495.1 414.0,490.0" class="r"/>
<polygon points="416.2,487.1 419.1,477.0 426.3,469.7 433.6,462.4 442.3,457.3 452.5,455.2 458.3,458.1 458.3,466.8 454.0,474.1 446.7,481.3 436.5,488.6 424.9,490.8" class="r"/>
<polygon points="419.1,488.6 421.2,478.4 427.8,471.2 435.1,465.3 443.8,461.0 452.5,459.5 455.4,463.9 452.5,471.2 445.2,478.4 436.5,485.7 426.3,489.3" class="r"/>
<polygon points="432.5,476.4 449.4,459.6 449.9,476.3 443.7,480.1 439.5,480.4" class="r"/>
<polygon points="426.1,471.2 430.1,467.8 432.8,465.9 444.7,461.7 439.1,480.5 435.5,484.0" class="r"/>
<polygon points="433.1,471.4 439.8,463.6 453.6,462.3 445.5,477.9 444.9,479.0 439.4,481.2 434.4,479.6" class="r"/>
<polygon points="428.9,472.0 429.6,468.8 439.7,460.3 447.8,459.3 450.9,460.3 453.9,465.9 441.8,478.6 431.0,475.2" class="r"/>
<polygon points="423.4,487.1 426.3,478.4 432.2,472.6 439.4,467.5 447.4,464.6 452.5,466.1 451.8,471.9 445.2,478.4 436.5,484.2 427.8,487.1" class="r"/>
<polygon points="428.7,476.5 432.4,469.6 448.6,465.0 451.3,469.0 449.1,475.0 441.0,480.7 431.3,481.6" class="r"/>
<polygon points="434.3,478.7 435.4,475.8 438.1,472.9 439.7,472.2 444.7,470.8 442.1,478.0 439.1,479.7" class="r"/>
<polygon points="434.2,482.7 434.5,470.0 440.1,467.7 444.7,470.0 445.1,471.4 441.2,478.5" class="r"/>
<polygon points="427.1,484.2 429.2,477.0 435.1,471.9 442.3,468.2 448.1,468.2 449.6,472.6 443.8,477.7 436.5,482.1" class="r"/>
<polygon points="431.7,477.4 436.0,472.8 441.9,470.2 447.0,471.7 446.4,475.8 433.2,483.1" class="r"/>
<polygon points="431.6,478.7 431.7,477.2 437.0,470.1 448.3,472.3 447.8,474.2 440.8,481.7 437.9,481.4" class="r"/>
<polygon points="433.0,477.0 438.4,470.4 443.3,468.1 447.4,472.8 446.6,473.5 437.1,479.6 434.6,479.0" class="r"/>
<polygon points="432.6,475.4 446.1,472.1 444.9,473.6 442.9,475.4 441.5,476.5 435.9,478.6" class="r"/>
<polyline points="433.6,456.6 443.8,453.0 454.0,454.4 459.0,458.1 458.3,466.8" class="r"/>
<polygon points="429.2,472.6 433.6,463.9 439.4,458.1 448.1,454.4 458.3,455.2 461.9,461.0 459.8,471.2 454.0,477.0 446.7,482.8 438.0,484.2 432.2,481.3 429.2,477.0" class="b"/>
<polygon points="434.0,467.3 439.0,462.1 441.7,460.3 453.3,462.2 448.8,477.0 446.2,479.8 445.0,479.8 436.6,477.7" class="b"/>
<polygon points="432.2,477.0 435.1,468.2 440.9,462.4 448.1,459.5 455.4,460.2 457.6,465.3 454.0,472.6 446.7,478.4 438.0,481.3" class="b"/>
<polygon points="444.8,478.9 452.6,460.4 457.3,462.3 455.4,470.8 452.6,475.9 450.4,477.5" class="b"/>
<polygon points="435.1,475.5 438.0,468.2 443.1,464.6 449.6,463.2 454.0,465.3 452.5,471.2 446.7,475.5 439.4,478.4" class="b"/>
<polygon points="434.9,476.1 436.0,473.0 444.9,467.6 447.9,470.2 446.9,475.4 446.1,475.8 441.6,478.5 438.6,478.6" class="b"/>
<polygon points="439.4,472.6 441.6,467.5 446.0,465.3 451.0,466.1 451.0,470.4 446.7,474.1 441.6,474.8" class="b"/>
<polygon points="439.4,472.6 441.6,467.5 446.0,465.3 451.0,466.1 451.0,470.4 446.7,474.1 441.6,474.8" class="bf"/>
<polygon points="438.4,471.3 442.3,467.1 444.1,466.2 444.6,466.3 448.3,467.0 449.0,469.3 449.4,470.8 440.2,474.4 439.4,473.5" class="b"/>
<polygon points="442.3,471.2 443.8,467.5 447.4,466.1 449.6,468.2 448.1,471.2 444.5,472.3" class="b"/>
<polygon points="442.3,471.2 443.8,467.5 447.4,466.1 449.6,468.2 448.1,471.2 444.5,472.3" class="bf"/>
<polygon points="443.0,470.9 443.3,469.7 444.2,468.6 444.9,468.5 447.5,469.2 444.2,472.2" class="b"/>
<polygon points="425.9,481.0 428.4,473.3 444.5,467.5 444.9,474.7 439.3,481.9 434.0,484.4 428.3,485.5" class="r"/>
<polygon points="509.0,489.0 510.9,480.1 514.8,471.2 528.8,455.9 535.2,454.6 542.8,443.1 560.7,445.0 565.1,450.1 565.8,457.1 563.2,467.3 558.1,473.7 550.5,480.1 544.1,483.9 539.0,492.8 533.9,497.9 517.3,497.9 510.9,495.4" class="r"/>
<polygon points="510.9,486.5 514.1,476.3 521.1,467.3 531.3,459.7 540.3,453.3 550.5,450.1 561.9,449.5 564.5,454.6 561.9,464.8 555.6,472.4 546.6,478.8 539.0,486.5 530.1,491.6 517.3,492.8" class="r"/>
<polygon points="514.8,487.7 517.3,478.8 523.7,471.2 532.6,464.8 541.5,459.7 550.5,455.9 558.1,454.6 560.7,459.7 558.1,467.3 550.5,473.7 542.8,478.8 533.9,485.2 523.7,489.0" class="r"/>
<polygon points="522.9,486.0 536.2,462.0 551.4,461.9 550.8,468.2 540.5,480.4 534.9,483.2 528.9,485.8" class="r"/>
<polygon points="523.1,476.8 532.8,466.1 535.7,465.5 540.8,465.5 538.8,475.7 531.2,479.7" class="r"/>
<polygon points="518.6,486.5 521.1,478.8 527.5,472.4 535.2,467.3 544.1,463.5 551.7,461.0 556.8,462.2 555.6,468.6 549.2,473.7 540.3,478.8 531.3,483.9 523.7,486.5" class="r"/>
<polygon points="532.1,472.5 537.2,469.4 549.2,468.4 548.8,471.5 546.8,474.3" class="r"/>
<polygon points="532.6,471.2 549.7,468.0 548.7,472.9 545.9,476.4 543.0,479.1 537.7,481.0 536.0,481.0" class="r"/>
<polygon points="514.8,490.3 516.0,482.6 521.1,480.1 526.2,485.2 525.0,491.6 518.6,494.1" class="r"/>
<polygon points="516.3,485.6 517.5,482.5 519.0,481.5 521.5,482.2 524.2,484.2 524.1,486.8 516.5,489.1" class="r"/>
<polygon points="516.0,489.0 517.9,482.0 523.0,481.4 523.7,489.0 519.9,491.6" class="r"/>
<polygon points="518.8,486.0 519.0,484.2 519.4,483.0 520.8,482.5 521.7,482.7 522.2,483.2 523.1,486.4 518.9,487.2" class="r"/>
<polygon points="530.1,476.3 532.6,469.9 539.0,464.8 546.6,462.2 553.0,462.9 553.0,468.6 546.6,473.7 539.0,476.3" class="r"/>
<polygon points="535.8,468.2 537.9,465.4 542.2,462.0 551.1,469.4 548.8,472.0 543.8,474.0" class="r"/>
<polygon points="536.4,459.7 544.1,454.6 553.0,452.0 559.4,453.3 560.7,459.7 555.6,466.1 546.6,467.3 540.3,464.8" class="r"/>
<polygon points="537.1,462.1 542.1,453.8 543.0,453.2 553.0,456.7 553.6,458.3 541.0,465.5" class="r"/>
<polygon points="526.2,478.8 528.8,471.2 535.2,466.1 541.5,466.1 542.8,472.4 537.7,478.8 531.3,481.4" class="r"/>
<polygon points="532.7,475.3 536.4,469.5 537.7,469.4 539.6,474.4 535.7,477.3 534.8,477.5" class="r"/>
<polygon points="527.1,478.4 528.4,471.9 535.2,469.1 538.9,471.5 537.2,478.3 534.6,480.2" class="r"/>
<polygon points="533.9,472.4 535.2,468.6 538.4,466.1 542.2,464.8 546.0,465.4 546.6,469.2 544.1,472.4 539.6,475.0 535.8,475.2" class="b"/>
<polygon points="536.4,471.8 538.4,468.4 541.5,466.7 544.7,467.1 545.1,470.1 542.2,472.4 538.4,473.1" class="b"/>
<polygon points="536.4,471.8 538.4,468.4 541.5,466.7 544.7,467.1 545.1,470.1 542.2,472.4 538.4,473.1" class="bf"/>
<polygon points="539.0,470.5 540.3,468.4 542.8,467.6 544.1,469.6 542.2,471.4" class="b"/>
<polygon points="539.0,470.5 540.3,468.4 542.8,467.6 544.1,469.6 542.2,471.4" class="bf"/>
<polygon points="537.1,470.1 550.4,464.0 551.5,466.4 551.1,467.8 548.6,469.9 540.4,472.8 537.8,472.4" class="r"/>
<polygon points="590.9,484.5 597.1,477.1 604.5,462.2 614.4,454.8 625.6,446.2 637.9,448.7 646.6,447.4 654.0,448.0 657.1,461.0 652.7,472.1 646.6,480.8 637.9,487.0 626.8,496.9 616.9,498.1 604.5,498.1 594.7,494.4" class="r"/>
<polygon points="592.8,489.4 595.9,480.8 604.5,472.1 612.0,466.0 621.8,458.5 630.5,453.6 640.4,452.4 646.6,454.8 649.0,464.7 644.1,473.4 635.4,480.8 626.8,487.0 616.9,493.2 604.5,495.6 595.9,494.4" class="r"/>
<polygon points="595.9,491.9 598.4,483.3 604.5,475.8 614.4,468.4 623.1,463.5 633.0,459.8 641.6,459.8 642.9,466.0 637.9,473.4 629.3,480.8 620.6,487.0 610.7,491.9 600.8,494.4" class="r"/>
<polygon points="609.6,482.5 610.9,476.7 613.0,472.6 622.0,466.7 623.1,466.3 631.0,467.4 628.8,474.9 615.7,481.6" class="r"/>
<polygon points="604.0,484.2 620.5,468.6 631.0,467.8 633.8,471.1 634.3,472.5 631.3,479.5 628.6,481.4" class="r"/>
<polygon points="637.9,452.4 647.8,448.7 654.0,448.7 657.1,461.0 654.0,469.7 647.8,477.1 641.6,474.6 639.2,464.7" class="r"/>
<polygon points="639.5,461.5 640.4,457.9 647.1,453.9 651.3,454.1 654.5,458.4 655.2,461.5 655.0,461.8" class="r"/>
<polygon points="599.6,489.4 603.3,480.8 610.7,474.6 619.4,469.7 628.0,466.0 635.4,466.0 636.7,470.9 631.7,477.1 623.1,482.0 613.2,487.0 604.5,489.4" class="r"/>
<polygon points="604.9,483.3 615.4,470.1 620.3,467.4 627.7,466.9 631.1,471.3 629.7,475.4 611.2,485.1" class="r"/>
<polygon points="602.4,487.8 605.0,478.3 609.7,476.2 619.6,472.9 622.3,474.6 623.5,475.6 609.3,489.5" class="r"/>
<polygon points="604.5,487.0 608.2,479.6 615.7,473.4 623.1,469.7 630.5,468.4 634.2,470.9 631.7,477.1 624.3,480.8 615.7,484.5 608.2,487.0" class="r"/>
<polygon points="616.0,475.1 620.1,473.2 621.4,472.8 625.2,474.2 625.3,475.4" class="r"/>
<polygon points="618.1,462.2 625.6,460.4 635.4,460.4 636.7,466.0 633.0,472.1 625.6,475.8 619.4,473.4 617.5,467.2" class="r"/>
<polygon points="604.5,469.7 613.2,464.7 618.1,467.2 616.9,475.8 610.7,480.8 604.5,480.8 602.1,475.8" class="r"/>
<polygon points="607.2,472.6 614.2,470.2 615.5,471.0 615.4,472.7 610.7,477.2 607.6,475.9" class="r"/>
<polygon points="612.6,477.1 613.8,472.8 617.5,469.0 622.5,466.6 628.0,465.3 632.4,466.6 632.4,470.9 628.6,475.2 623.1,478.3 617.5,480.2 613.8,479.6" class="b"/>
<polygon points="615.7,477.1 617.5,472.8 621.2,469.7 626.2,467.8 630.5,468.4 630.5,472.1 626.8,475.8 621.8,477.7 617.5,478.3" class="b"/>
<polygon points="619.4,475.8 621.2,472.1 624.9,469.7 628.6,469.7 629.3,472.4 626.2,475.2 621.8,476.5" class="b"/>
<polygon points="619.4,475.8 621.2,472.1 624.9,469.7 628.6,469.7 629.3,472.4 626.2,475.2 621.8,476.5" class="bf"/>
<polygon points="624.3,473.4 625.6,470.3 628.6,468.7 631.1,469.7 630.5,472.4 627.4,474.0" class="b"/>
<polygon points="624.3,473.4 625.6,470.3 628.6,468.7 631.1,469.7 630.5,472.4 627.4,474.0" class="bf"/>
<polygon points="619.1,475.1 620.9,474.0 625.2,472.7 627.1,473.7 627.4,474.1 628.4,475.5 626.3,480.0 625.7,480.8 622.5,482.2" class="r"/>
<polygon points="623.1,465.1 623.9,464.3 630.3,468.1 629.5,470.3 623.7,470.3 623.5,469.8" class="r"/>
<polygon points="620.4,468.6 620.4,467.7 630.6,468.5 630.6,469.4 629.5,470.5 624.6,472.2 622.2,472.1" class="r"/>
<g class="t">
<text x="73.65" y="6.3" textLength="19.20" lengthAdjust="spacingAndGlyphs">L Aud</text>
<text x="165.70" y="6.3" textLength="19.90" lengthAdjust="spacingAndGlyphs">R Aud</text>
<text x="257.00" y="6.3" textLength="22.90" lengthAdjust="spacingAndGlyphs">Striate</text>
<text x="348.85" y="6.3" textLength="21.00" lengthAdjust="spacingAndGlyphs">L DMN</text>
<text x="440.35" y="6.3" textLength="31.60" lengthAdjust="spacingAndGlyphs">Med DMN</text>
<text x="531.95" y="6.3" textLength="35.60" lengthAdjust="spacingAndGlyphs">Front DMN</text>
<text x="623.85" y="6.3" textLength="22.60" lengthAdjust="spacingAndGlyphs">R DMN</text>
<text x="715.95" y="6.3" textLength="28.40" lengthAdjust="spacingAndGlyphs">Occ post</text>
<text x="73.50" y="112.3" textLength="19.90" lengthAdjust="spacingAndGlyphs">Motor</text>
<text x="165.45" y="112.3" textLength="28.00" lengthAdjust="spacingAndGlyphs">R DLPFC</text>
<text x="257.35" y="112.3" textLength="38.00" lengthAdjust="spacingAndGlyphs">R Front pol</text>
<text x="348.95" y="112.3" textLength="18.40" lengthAdjust="spacingAndGlyphs">R Par</text>
<text x="440.85" y="112.3" textLength="41.60" lengthAdjust="spacingAndGlyphs">R Post Temp</text>
<text x="532.25" y="112.3" textLength="18.60" lengthAdjust="spacingAndGlyphs">Basal</text>
<text x="624.50" y="112.3" textLength="18.30" lengthAdjust="spacingAndGlyphs">L Par</text>
<text x="715.35" y="112.3" textLength="26.60" lengthAdjust="spacingAndGlyphs">L DLPFC</text>
<text x="73.90" y="218.75" textLength="37.30" lengthAdjust="spacingAndGlyphs">L Front pol</text>
<text x="165.60" y="218.75" textLength="17.70" lengthAdjust="spacingAndGlyphs">L IPS</text>
<text x="257.40" y="218.75" textLength="17.30" lengthAdjust="spacingAndGlyphs">R IPS</text>
<text x="348.85" y="218.75" textLength="18.60" lengthAdjust="spacingAndGlyphs">L LOC</text>
<text x="440.70" y="218.75" textLength="9.90" lengthAdjust="spacingAndGlyphs">Vis</text>
<text x="532.25" y="218.75" textLength="20.60" lengthAdjust="spacingAndGlyphs">R LOC</text>
<text x="623.90" y="218.75" textLength="19.50" lengthAdjust="spacingAndGlyphs">D ACC</text>
<text x="715.60" y="218.75" textLength="21.30" lengthAdjust="spacingAndGlyphs">V ACC</text>
<text x="73.75" y="324.7" textLength="23.60" lengthAdjust="spacingAndGlyphs">R A Ins</text>
<text x="165.50" y="324.7" textLength="17.90" lengthAdjust="spacingAndGlyphs">L STS</text>
<text x="257.40" y="324.7" textLength="19.30" lengthAdjust="spacingAndGlyphs">R STS</text>
<text x="349.25" y="324.7" textLength="17.40" lengthAdjust="spacingAndGlyphs">L TPJ</text>
<text x="440.40" y="324.7" textLength="18.50" lengthAdjust="spacingAndGlyphs">Broca</text>
<text x="532.05" y="324.7" textLength="39.00" lengthAdjust="spacingAndGlyphs">Sup Front S</text>
<text x="624.40" y="324.7" textLength="17.30" lengthAdjust="spacingAndGlyphs">R TPJ</text>
<text x="715.65" y="324.7" textLength="32.00" lengthAdjust="spacingAndGlyphs">R Pars Op</text>
<text x="73.90" y="431" textLength="20.20" lengthAdjust="spacingAndGlyphs">Cereb</text>
<text x="165.55" y="431" textLength="30.00" lengthAdjust="spacingAndGlyphs">Dors PCC</text>
<text x="257.00" y="431" textLength="15.30" lengthAdjust="spacingAndGlyphs">L Ins</text>
<text x="349.00" y="431" textLength="14.90" lengthAdjust="spacingAndGlyphs">Cing</text>
<text x="440.20" y="431" textLength="16.30" lengthAdjust="spacingAndGlyphs">R Ins</text>
<text x="531.55" y="431" textLength="30.00" lengthAdjust="spacingAndGlyphs">L Ant IPS</text>
<text x="623.70" y="431" textLength="29.90" lengthAdjust="spacingAndGlyphs">R Ant IPS</text>
</g>
<rect x="0.5" y="6.0" width="39" height="17.3" fill="#fff" stroke="#b4b4b4" stroke-width="1"/>
<line x1="2.1" y1="11.0" x2="22.4" y2="11.0" stroke="#f00" stroke-width="1"/>
<line x1="2.1" y1="19.0" x2="22.4" y2="19.0" stroke="#00f" stroke-width="1"/>
<text class="lg" x="24.0" y="12.9" textLength="12.9" lengthAdjust="spacingAndGlyphs">child</text>
<text class="lg" x="24.0" y="20.8" textLength="13.1" lengthAdjust="spacingAndGlyphs">adult</text>
</svg>
</body></html>
